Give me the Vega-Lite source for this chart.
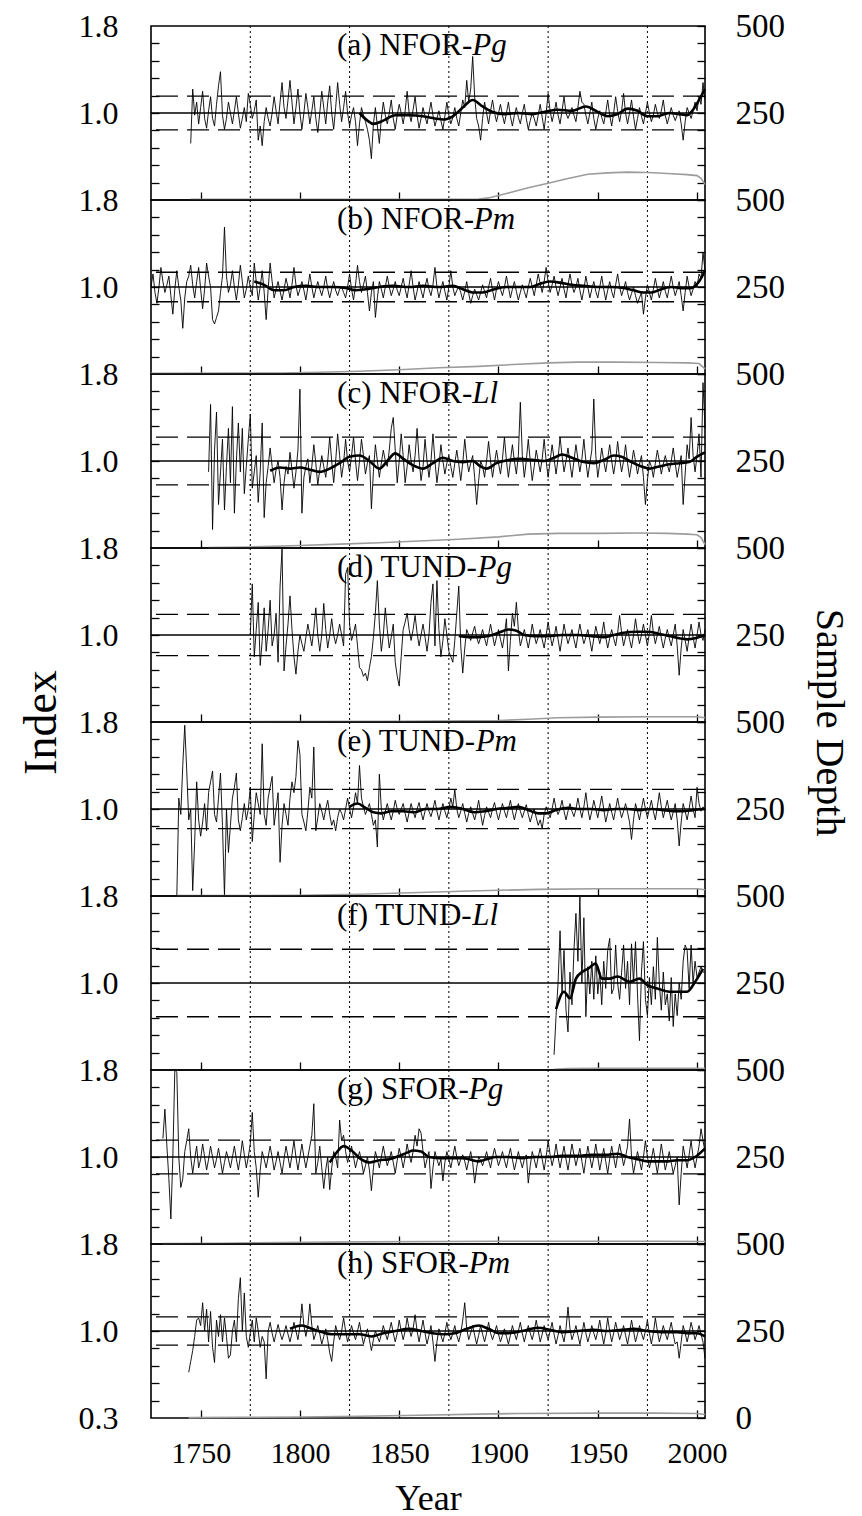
{
  "$schema": "https://vega.github.io/schema/vega-lite/v6.json",
  "background": "white",
  "padding": {"left": 17, "top": 9, "right": 5, "bottom": 5},
  "spacing": 0,
  "bounds": "flush",
  "config": {
    "view": {"stroke": "black", "strokeWidth": 1.6},
    "font": "Liberation Serif",
    "axis": {
      "domain": false, "grid": false, "tickColor": "black", "tickWidth": 1.3, "tickSize": -8,
      "labelFont": "Liberation Serif", "labelColor": "black", "labelOverlap": false, "labelBound": false, "labelFlush": false,
      "titleFont": "Liberation Serif", "titleColor": "black", "titleFontWeight": "normal", "titleFontSize": 36
    },
    "axisLeft": {"labelFontSize": 32, "labelPadding": 33},
    "axisRight": {"labelFontSize": 33, "labelPadding": 38},
    "axisBottom": {"labelFontSize": 30, "labelPadding": 28}
  },
  "datasets": {
    "decades": [{"year": 1775}, {"year": 1825}, {"year": 1875}, {"year": 1925}, {"year": 1975}],
    "levels": [
      {"panel": "a", "kind": "lo", "idx": 0.845}, {"panel": "a", "kind": "mean", "idx": 1.0}, {"panel": "a", "kind": "hi", "idx": 1.155},
      {"panel": "b", "kind": "lo", "idx": 0.865}, {"panel": "b", "kind": "mean", "idx": 1.0}, {"panel": "b", "kind": "hi", "idx": 1.135},
      {"panel": "c", "kind": "lo", "idx": 0.78}, {"panel": "c", "kind": "mean", "idx": 1.0}, {"panel": "c", "kind": "hi", "idx": 1.22},
      {"panel": "d", "kind": "lo", "idx": 0.81}, {"panel": "d", "kind": "mean", "idx": 1.0}, {"panel": "d", "kind": "hi", "idx": 1.19},
      {"panel": "e", "kind": "lo", "idx": 0.82}, {"panel": "e", "kind": "mean", "idx": 1.0}, {"panel": "e", "kind": "hi", "idx": 1.18},
      {"panel": "f", "kind": "lo", "idx": 0.69}, {"panel": "f", "kind": "mean", "idx": 1.0}, {"panel": "f", "kind": "hi", "idx": 1.31},
      {"panel": "g", "kind": "lo", "idx": 0.845}, {"panel": "g", "kind": "mean", "idx": 1.0}, {"panel": "g", "kind": "hi", "idx": 1.155},
      {"panel": "h", "kind": "lo", "idx": 0.87}, {"panel": "h", "kind": "mean", "idx": 1.0}, {"panel": "h", "kind": "hi", "idx": 1.13}
    ],
    "labels": [
      {"panel": "a", "prefix": "(a) NFOR-", "species": "Pg"},
      {"panel": "b", "prefix": "(b) NFOR-", "species": "Pm"},
      {"panel": "c", "prefix": "(c) NFOR-", "species": "Ll"},
      {"panel": "d", "prefix": "(d) TUND-", "species": "Pg"},
      {"panel": "e", "prefix": "(e) TUND-", "species": "Pm"},
      {"panel": "f", "prefix": "(f) TUND-", "species": "Ll"},
      {"panel": "g", "prefix": "(g) SFOR-", "species": "Pg"},
      {"panel": "h", "prefix": "(h) SFOR-", "species": "Pm"}
    ],
    "raw_a": [
      {"year":1745,"idx":0.72},{"year":1746,"idx":1.22},{"year":1747,"idx":0.98},{"year":1748,"idx":1.1},{"year":1749,"idx":0.9},{"year":1750,"idx":1.05},{"year":1751,"idx":1.2},{"year":1752,"idx":0.95},{"year":1753,"idx":0.86},{"year":1754,"idx":1.02},{"year":1755,"idx":1.15},{"year":1756,"idx":0.95},{"year":1757,"idx":0.88},{"year":1758,"idx":1.08},{"year":1759,"idx":1.25},{"year":1760,"idx":1.38},{"year":1761,"idx":0.98},{"year":1762,"idx":0.85},{"year":1763,"idx":0.95},{"year":1764,"idx":1.1},{"year":1765,"idx":1.0},{"year":1766,"idx":0.9},{"year":1767,"idx":1.02},{"year":1768,"idx":1.15},{"year":1769,"idx":1.0},{"year":1770,"idx":0.86},{"year":1771,"idx":0.95},{"year":1772,"idx":1.05},{"year":1773,"idx":0.92},{"year":1774,"idx":1.18},{"year":1775,"idx":1.08},{"year":1776,"idx":0.95},{"year":1777,"idx":1.02},{"year":1778,"idx":1.12},{"year":1779,"idx":0.75},{"year":1780,"idx":0.88},{"year":1781,"idx":0.7},{"year":1782,"idx":0.92},{"year":1783,"idx":1.05},{"year":1784,"idx":0.95},{"year":1785,"idx":0.88},{"year":1786,"idx":1.0},{"year":1787,"idx":1.15},{"year":1788,"idx":1.02},{"year":1789,"idx":0.9},{"year":1790,"idx":1.1},{"year":1791,"idx":1.28},{"year":1792,"idx":1.05},{"year":1793,"idx":0.95},{"year":1794,"idx":1.12},{"year":1795,"idx":1.3},{"year":1796,"idx":1.1},{"year":1797,"idx":0.9},{"year":1798,"idx":1.05},{"year":1799,"idx":1.22},{"year":1800,"idx":1.0},{"year":1801,"idx":0.85},{"year":1802,"idx":1.0},{"year":1803,"idx":1.18},{"year":1804,"idx":1.05},{"year":1805,"idx":0.9},{"year":1806,"idx":1.02},{"year":1807,"idx":1.15},{"year":1808,"idx":0.95},{"year":1809,"idx":0.82},{"year":1810,"idx":1.0},{"year":1811,"idx":1.2},{"year":1812,"idx":1.05},{"year":1813,"idx":0.9},{"year":1814,"idx":1.1},{"year":1815,"idx":1.25},{"year":1816,"idx":1.0},{"year":1817,"idx":0.85},{"year":1818,"idx":1.05},{"year":1819,"idx":1.28},{"year":1820,"idx":1.08},{"year":1821,"idx":0.92},{"year":1822,"idx":1.05},{"year":1823,"idx":1.2},{"year":1824,"idx":1.0},{"year":1825,"idx":0.88},{"year":1826,"idx":0.98},{"year":1827,"idx":1.05},{"year":1828,"idx":0.92},{"year":1829,"idx":0.7},{"year":1830,"idx":0.9},{"year":1831,"idx":1.05},{"year":1832,"idx":0.98},{"year":1833,"idx":0.92},{"year":1834,"idx":0.85},{"year":1835,"idx":0.75},{"year":1836,"idx":0.58},{"year":1837,"idx":0.9},{"year":1838,"idx":1.05},{"year":1839,"idx":0.88},{"year":1840,"idx":0.72},{"year":1841,"idx":0.95},{"year":1842,"idx":1.1},{"year":1843,"idx":0.98},{"year":1844,"idx":0.9},{"year":1845,"idx":1.0},{"year":1846,"idx":1.12},{"year":1847,"idx":0.95},{"year":1848,"idx":0.85},{"year":1849,"idx":0.98},{"year":1850,"idx":1.08},{"year":1851,"idx":1.0},{"year":1852,"idx":0.9},{"year":1853,"idx":1.02},{"year":1854,"idx":1.2},{"year":1855,"idx":1.0},{"year":1856,"idx":0.92},{"year":1857,"idx":1.03},{"year":1858,"idx":1.15},{"year":1859,"idx":0.98},{"year":1860,"idx":0.86},{"year":1861,"idx":0.95},{"year":1862,"idx":1.05},{"year":1863,"idx":0.97},{"year":1864,"idx":0.9},{"year":1865,"idx":1.0},{"year":1866,"idx":1.1},{"year":1867,"idx":0.98},{"year":1868,"idx":0.88},{"year":1869,"idx":0.95},{"year":1870,"idx":1.02},{"year":1871,"idx":0.93},{"year":1872,"idx":0.85},{"year":1873,"idx":0.97},{"year":1874,"idx":1.1},{"year":1875,"idx":0.98},{"year":1876,"idx":0.9},{"year":1877,"idx":0.96},{"year":1878,"idx":1.05},{"year":1879,"idx":0.95},{"year":1880,"idx":0.88},{"year":1881,"idx":1.0},{"year":1882,"idx":1.12},{"year":1883,"idx":1.05},{"year":1884,"idx":1.3},{"year":1885,"idx":1.1},{"year":1886,"idx":1.22},{"year":1887,"idx":1.52},{"year":1888,"idx":1.15},{"year":1889,"idx":0.95},{"year":1890,"idx":0.88},{"year":1891,"idx":0.75},{"year":1892,"idx":0.95},{"year":1893,"idx":1.1},{"year":1894,"idx":1.0},{"year":1895,"idx":0.9},{"year":1896,"idx":1.02},{"year":1897,"idx":1.12},{"year":1898,"idx":1.0},{"year":1899,"idx":0.92},{"year":1900,"idx":1.0},{"year":1901,"idx":1.08},{"year":1902,"idx":0.98},{"year":1903,"idx":0.9},{"year":1904,"idx":1.0},{"year":1905,"idx":1.1},{"year":1906,"idx":0.97},{"year":1907,"idx":0.88},{"year":1908,"idx":0.98},{"year":1909,"idx":1.05},{"year":1910,"idx":0.96},{"year":1911,"idx":0.9},{"year":1912,"idx":1.0},{"year":1913,"idx":1.08},{"year":1914,"idx":0.95},{"year":1915,"idx":0.85},{"year":1916,"idx":0.93},{"year":1917,"idx":1.0},{"year":1918,"idx":0.95},{"year":1919,"idx":0.88},{"year":1920,"idx":0.98},{"year":1921,"idx":1.08},{"year":1922,"idx":0.96},{"year":1923,"idx":0.85},{"year":1924,"idx":1.0},{"year":1925,"idx":1.18},{"year":1926,"idx":1.02},{"year":1927,"idx":0.92},{"year":1928,"idx":1.0},{"year":1929,"idx":1.1},{"year":1930,"idx":0.98},{"year":1931,"idx":0.9},{"year":1932,"idx":1.02},{"year":1933,"idx":1.15},{"year":1934,"idx":1.0},{"year":1935,"idx":0.95},{"year":1936,"idx":1.0},{"year":1937,"idx":1.05},{"year":1938,"idx":0.98},{"year":1939,"idx":0.92},{"year":1940,"idx":1.05},{"year":1941,"idx":1.2},{"year":1942,"idx":1.1},{"year":1943,"idx":1.08},{"year":1944,"idx":0.98},{"year":1945,"idx":0.9},{"year":1946,"idx":1.0},{"year":1947,"idx":1.1},{"year":1948,"idx":0.95},{"year":1949,"idx":0.85},{"year":1950,"idx":0.95},{"year":1951,"idx":1.02},{"year":1952,"idx":0.96},{"year":1953,"idx":0.9},{"year":1954,"idx":1.0},{"year":1955,"idx":1.12},{"year":1956,"idx":0.98},{"year":1957,"idx":0.88},{"year":1958,"idx":1.0},{"year":1959,"idx":1.15},{"year":1960,"idx":1.02},{"year":1961,"idx":0.92},{"year":1962,"idx":1.02},{"year":1963,"idx":1.18},{"year":1964,"idx":1.0},{"year":1965,"idx":0.9},{"year":1966,"idx":1.0},{"year":1967,"idx":1.12},{"year":1968,"idx":0.97},{"year":1969,"idx":0.85},{"year":1970,"idx":0.95},{"year":1971,"idx":1.05},{"year":1972,"idx":0.97},{"year":1973,"idx":0.9},{"year":1974,"idx":1.0},{"year":1975,"idx":1.1},{"year":1976,"idx":1.0},{"year":1977,"idx":0.92},{"year":1978,"idx":0.98},{"year":1979,"idx":1.08},{"year":1980,"idx":1.0},{"year":1981,"idx":0.95},{"year":1982,"idx":1.02},{"year":1983,"idx":1.12},{"year":1984,"idx":0.98},{"year":1985,"idx":0.9},{"year":1986,"idx":0.97},{"year":1987,"idx":1.05},{"year":1988,"idx":0.98},{"year":1989,"idx":0.93},{"year":1990,"idx":0.98},{"year":1991,"idx":1.02},{"year":1992,"idx":0.9},{"year":1993,"idx":0.75},{"year":1994,"idx":0.92},{"year":1995,"idx":1.05},{"year":1996,"idx":1.0},{"year":1997,"idx":0.95},{"year":1998,"idx":1.02},{"year":1999,"idx":1.1},{"year":2000,"idx":1.02},{"year":2001,"idx":1.15},{"year":2002,"idx":1.08},{"year":2003,"idx":1.28},{"year":2004,"idx":1.12}
    ],
    "smooth_a": [
      {"year":1830,"idx":1.0},{"year":1834,"idx":0.93},{"year":1837,"idx":0.9},{"year":1842,"idx":0.93},{"year":1848,"idx":0.98},{"year":1855,"idx":0.98},{"year":1862,"idx":0.97},{"year":1868,"idx":0.95},{"year":1872,"idx":0.94},{"year":1877,"idx":0.97},{"year":1882,"idx":1.05},{"year":1887,"idx":1.12},{"year":1892,"idx":1.06},{"year":1897,"idx":1.01},{"year":1903,"idx":0.99},{"year":1910,"idx":1.0},{"year":1917,"idx":0.99},{"year":1923,"idx":1.01},{"year":1930,"idx":1.03},{"year":1937,"idx":1.02},{"year":1944,"idx":1.06},{"year":1950,"idx":1.01},{"year":1955,"idx":0.97},{"year":1960,"idx":0.99},{"year":1965,"idx":1.04},{"year":1970,"idx":1.02},{"year":1975,"idx":0.97},{"year":1980,"idx":0.97},{"year":1986,"idx":1.0},{"year":1991,"idx":0.99},{"year":1995,"idx":0.98},{"year":1998,"idx":1.03},{"year":2001,"idx":1.12},{"year":2004,"idx":1.22}
    ],
    "depth_a": [
      {"year":1745,"n":2},{"year":1800,"n":2},{"year":1850,"n":2},{"year":1890,"n":3},{"year":1895,"n":6},{"year":1905,"n":20},{"year":1915,"n":35},{"year":1925,"n":48},{"year":1935,"n":62},{"year":1945,"n":74},{"year":1955,"n":78},{"year":1965,"n":80},{"year":1975,"n":79},{"year":1985,"n":76},{"year":1995,"n":73},{"year":2000,"n":70},{"year":2002,"n":62},{"year":2004,"n":45}
    ],
    "raw_b": [
      {"year":1725,"idx":1.0},{"year":1726,"idx":1.12},{"year":1727,"idx":0.95},{"year":1728,"idx":0.85},{"year":1729,"idx":1.0},{"year":1730,"idx":1.18},{"year":1731,"idx":1.05},{"year":1732,"idx":0.95},{"year":1733,"idx":1.02},{"year":1734,"idx":1.1},{"year":1735,"idx":0.92},{"year":1736,"idx":0.75},{"year":1737,"idx":0.98},{"year":1738,"idx":1.15},{"year":1739,"idx":1.0},{"year":1740,"idx":0.88},{"year":1741,"idx":0.62},{"year":1742,"idx":0.9},{"year":1743,"idx":1.05},{"year":1744,"idx":1.1},{"year":1745,"idx":1.2},{"year":1746,"idx":1.02},{"year":1747,"idx":0.9},{"year":1748,"idx":1.05},{"year":1749,"idx":1.18},{"year":1750,"idx":0.98},{"year":1751,"idx":0.8},{"year":1752,"idx":0.98},{"year":1753,"idx":1.22},{"year":1754,"idx":1.1},{"year":1755,"idx":1.0},{"year":1756,"idx":0.7},{"year":1757,"idx":0.66},{"year":1758,"idx":0.72},{"year":1759,"idx":0.78},{"year":1760,"idx":0.95},{"year":1761,"idx":1.1},{"year":1762,"idx":1.55},{"year":1763,"idx":1.1},{"year":1764,"idx":0.95},{"year":1765,"idx":1.02},{"year":1766,"idx":1.15},{"year":1767,"idx":1.0},{"year":1768,"idx":0.88},{"year":1769,"idx":1.02},{"year":1770,"idx":1.2},{"year":1771,"idx":1.05},{"year":1772,"idx":0.9},{"year":1773,"idx":0.98},{"year":1774,"idx":1.1},{"year":1775,"idx":1.0},{"year":1776,"idx":0.92},{"year":1777,"idx":1.22},{"year":1778,"idx":1.05},{"year":1779,"idx":0.88},{"year":1780,"idx":1.0},{"year":1781,"idx":1.15},{"year":1782,"idx":0.95},{"year":1783,"idx":0.7},{"year":1784,"idx":0.98},{"year":1785,"idx":1.22},{"year":1786,"idx":1.05},{"year":1787,"idx":0.9},{"year":1788,"idx":0.98},{"year":1789,"idx":1.05},{"year":1790,"idx":0.96},{"year":1791,"idx":0.88},{"year":1792,"idx":0.98},{"year":1793,"idx":1.08},{"year":1794,"idx":1.0},{"year":1795,"idx":0.9},{"year":1796,"idx":1.02},{"year":1797,"idx":1.18},{"year":1798,"idx":1.02},{"year":1799,"idx":0.92},{"year":1800,"idx":0.98},{"year":1801,"idx":1.05},{"year":1802,"idx":0.97},{"year":1803,"idx":0.88},{"year":1804,"idx":1.0},{"year":1805,"idx":1.12},{"year":1806,"idx":1.0},{"year":1807,"idx":0.9},{"year":1808,"idx":0.98},{"year":1809,"idx":1.05},{"year":1810,"idx":0.98},{"year":1811,"idx":0.92},{"year":1812,"idx":1.0},{"year":1813,"idx":1.1},{"year":1814,"idx":0.98},{"year":1815,"idx":0.9},{"year":1816,"idx":0.98},{"year":1817,"idx":1.05},{"year":1818,"idx":0.97},{"year":1819,"idx":0.92},{"year":1820,"idx":0.98},{"year":1821,"idx":1.0},{"year":1822,"idx":0.95},{"year":1823,"idx":0.9},{"year":1824,"idx":1.0},{"year":1825,"idx":1.12},{"year":1826,"idx":0.98},{"year":1827,"idx":0.88},{"year":1828,"idx":1.02},{"year":1829,"idx":1.2},{"year":1830,"idx":1.05},{"year":1831,"idx":0.95},{"year":1832,"idx":1.02},{"year":1833,"idx":1.1},{"year":1834,"idx":0.95},{"year":1835,"idx":0.78},{"year":1836,"idx":0.95},{"year":1837,"idx":1.05},{"year":1838,"idx":0.72},{"year":1839,"idx":0.9},{"year":1840,"idx":1.05},{"year":1841,"idx":0.98},{"year":1842,"idx":0.9},{"year":1843,"idx":1.0},{"year":1844,"idx":1.1},{"year":1845,"idx":1.0},{"year":1846,"idx":0.92},{"year":1847,"idx":0.98},{"year":1848,"idx":1.05},{"year":1849,"idx":0.97},{"year":1850,"idx":0.92},{"year":1851,"idx":1.0},{"year":1852,"idx":1.08},{"year":1853,"idx":0.98},{"year":1854,"idx":0.9},{"year":1855,"idx":1.02},{"year":1856,"idx":1.15},{"year":1857,"idx":1.0},{"year":1858,"idx":0.88},{"year":1859,"idx":0.96},{"year":1860,"idx":1.05},{"year":1861,"idx":0.97},{"year":1862,"idx":0.9},{"year":1863,"idx":1.0},{"year":1864,"idx":1.08},{"year":1865,"idx":0.98},{"year":1866,"idx":0.92},{"year":1867,"idx":1.02},{"year":1868,"idx":1.18},{"year":1869,"idx":1.0},{"year":1870,"idx":0.9},{"year":1871,"idx":0.98},{"year":1872,"idx":1.05},{"year":1873,"idx":0.96},{"year":1874,"idx":0.88},{"year":1875,"idx":1.0},{"year":1876,"idx":1.15},{"year":1877,"idx":1.0},{"year":1878,"idx":0.92},{"year":1879,"idx":0.97},{"year":1880,"idx":1.0},{"year":1881,"idx":0.95},{"year":1882,"idx":0.88},{"year":1883,"idx":0.96},{"year":1884,"idx":1.05},{"year":1885,"idx":0.94},{"year":1886,"idx":0.85},{"year":1887,"idx":0.92},{"year":1888,"idx":0.98},{"year":1889,"idx":0.93},{"year":1890,"idx":0.88},{"year":1891,"idx":0.95},{"year":1892,"idx":1.02},{"year":1893,"idx":0.96},{"year":1894,"idx":0.9},{"year":1895,"idx":1.0},{"year":1896,"idx":1.08},{"year":1897,"idx":0.97},{"year":1898,"idx":0.88},{"year":1899,"idx":0.98},{"year":1900,"idx":1.05},{"year":1901,"idx":0.98},{"year":1902,"idx":0.92},{"year":1903,"idx":1.0},{"year":1904,"idx":1.1},{"year":1905,"idx":1.0},{"year":1906,"idx":0.9},{"year":1907,"idx":0.98},{"year":1908,"idx":1.05},{"year":1909,"idx":0.96},{"year":1910,"idx":0.88},{"year":1911,"idx":0.95},{"year":1912,"idx":1.02},{"year":1913,"idx":0.96},{"year":1914,"idx":0.9},{"year":1915,"idx":1.0},{"year":1916,"idx":1.08},{"year":1917,"idx":1.0},{"year":1918,"idx":0.92},{"year":1919,"idx":1.02},{"year":1920,"idx":1.12},{"year":1921,"idx":1.03},{"year":1922,"idx":0.95},{"year":1923,"idx":1.05},{"year":1924,"idx":1.18},{"year":1925,"idx":1.05},{"year":1926,"idx":0.95},{"year":1927,"idx":1.02},{"year":1928,"idx":1.1},{"year":1929,"idx":1.0},{"year":1930,"idx":0.92},{"year":1931,"idx":1.0},{"year":1932,"idx":1.08},{"year":1933,"idx":0.98},{"year":1934,"idx":0.9},{"year":1935,"idx":1.02},{"year":1936,"idx":1.12},{"year":1937,"idx":1.02},{"year":1938,"idx":0.95},{"year":1939,"idx":1.0},{"year":1940,"idx":1.08},{"year":1941,"idx":0.97},{"year":1942,"idx":0.88},{"year":1943,"idx":0.98},{"year":1944,"idx":1.1},{"year":1945,"idx":1.0},{"year":1946,"idx":0.9},{"year":1947,"idx":0.98},{"year":1948,"idx":1.05},{"year":1949,"idx":0.96},{"year":1950,"idx":0.9},{"year":1951,"idx":1.0},{"year":1952,"idx":1.1},{"year":1953,"idx":0.98},{"year":1954,"idx":0.88},{"year":1955,"idx":0.97},{"year":1956,"idx":1.05},{"year":1957,"idx":0.96},{"year":1958,"idx":0.9},{"year":1959,"idx":1.02},{"year":1960,"idx":1.12},{"year":1961,"idx":1.0},{"year":1962,"idx":0.92},{"year":1963,"idx":0.98},{"year":1964,"idx":1.05},{"year":1965,"idx":0.95},{"year":1966,"idx":0.88},{"year":1967,"idx":0.94},{"year":1968,"idx":1.0},{"year":1969,"idx":0.92},{"year":1970,"idx":0.85},{"year":1971,"idx":0.9},{"year":1972,"idx":0.95},{"year":1973,"idx":0.75},{"year":1974,"idx":0.9},{"year":1975,"idx":1.02},{"year":1976,"idx":0.95},{"year":1977,"idx":0.88},{"year":1978,"idx":0.98},{"year":1979,"idx":1.08},{"year":1980,"idx":0.98},{"year":1981,"idx":0.9},{"year":1982,"idx":0.97},{"year":1983,"idx":1.05},{"year":1984,"idx":0.96},{"year":1985,"idx":0.9},{"year":1986,"idx":1.0},{"year":1987,"idx":1.1},{"year":1988,"idx":1.0},{"year":1989,"idx":0.92},{"year":1990,"idx":0.98},{"year":1991,"idx":1.05},{"year":1992,"idx":0.92},{"year":1993,"idx":0.78},{"year":1994,"idx":0.95},{"year":1995,"idx":1.1},{"year":1996,"idx":1.0},{"year":1997,"idx":0.92},{"year":1998,"idx":0.98},{"year":1999,"idx":1.05},{"year":2000,"idx":1.0},{"year":2001,"idx":1.12},{"year":2002,"idx":1.08},{"year":2003,"idx":1.32},{"year":2004,"idx":1.15}
    ],
    "smooth_b": [
      {"year":1777,"idx":1.05},{"year":1782,"idx":1.02},{"year":1787,"idx":0.97},{"year":1792,"idx":0.97},{"year":1797,"idx":1.0},{"year":1803,"idx":1.01},{"year":1810,"idx":1.0},{"year":1817,"idx":1.0},{"year":1823,"idx":0.99},{"year":1828,"idx":0.97},{"year":1833,"idx":0.98},{"year":1840,"idx":1.0},{"year":1847,"idx":1.01},{"year":1855,"idx":1.0},{"year":1862,"idx":1.01},{"year":1870,"idx":1.0},{"year":1877,"idx":1.01},{"year":1882,"idx":0.98},{"year":1887,"idx":0.95},{"year":1892,"idx":0.95},{"year":1898,"idx":0.98},{"year":1904,"idx":1.0},{"year":1910,"idx":1.0},{"year":1916,"idx":1.0},{"year":1921,"idx":1.03},{"year":1926,"idx":1.05},{"year":1931,"idx":1.04},{"year":1937,"idx":1.02},{"year":1943,"idx":1.01},{"year":1950,"idx":1.0},{"year":1957,"idx":1.0},{"year":1963,"idx":0.99},{"year":1968,"idx":0.97},{"year":1973,"idx":0.95},{"year":1977,"idx":0.95},{"year":1982,"idx":0.98},{"year":1987,"idx":1.0},{"year":1992,"idx":0.99},{"year":1997,"idx":0.99},{"year":2001,"idx":1.05},{"year":2004,"idx":1.15}
    ],
    "depth_b": [
      {"year":1725,"n":2},{"year":1790,"n":3},{"year":1810,"n":5},{"year":1830,"n":8},{"year":1850,"n":12},{"year":1870,"n":18},{"year":1890,"n":22},{"year":1910,"n":28},{"year":1925,"n":32},{"year":1940,"n":34},{"year":1960,"n":34},{"year":1980,"n":33},{"year":1995,"n":32},{"year":2001,"n":30},{"year":2004,"n":15}
    ],
    "raw_c": [
      {"year":1754,"idx":0.9},{"year":1755,"idx":1.52},{"year":1756,"idx":0.37},{"year":1757,"idx":1.1},{"year":1758,"idx":1.45},{"year":1759,"idx":0.6},{"year":1760,"idx":0.9},{"year":1761,"idx":1.2},{"year":1762,"idx":0.55},{"year":1763,"idx":0.95},{"year":1764,"idx":1.3},{"year":1765,"idx":0.8},{"year":1766,"idx":1.5},{"year":1767,"idx":0.52},{"year":1768,"idx":1.0},{"year":1769,"idx":1.35},{"year":1770,"idx":0.9},{"year":1771,"idx":1.3},{"year":1772,"idx":0.7},{"year":1773,"idx":0.95},{"year":1774,"idx":1.2},{"year":1775,"idx":1.43},{"year":1776,"idx":0.75},{"year":1777,"idx":0.9},{"year":1778,"idx":1.05},{"year":1779,"idx":0.62},{"year":1780,"idx":0.9},{"year":1781,"idx":1.35},{"year":1782,"idx":0.48},{"year":1783,"idx":0.8},{"year":1784,"idx":0.95},{"year":1785,"idx":1.12},{"year":1786,"idx":0.95},{"year":1787,"idx":0.8},{"year":1788,"idx":0.92},{"year":1789,"idx":1.0},{"year":1790,"idx":0.85},{"year":1791,"idx":0.55},{"year":1792,"idx":0.8},{"year":1793,"idx":0.95},{"year":1794,"idx":0.88},{"year":1795,"idx":1.08},{"year":1796,"idx":0.92},{"year":1797,"idx":0.75},{"year":1798,"idx":0.9},{"year":1799,"idx":1.1},{"year":1800,"idx":1.66},{"year":1801,"idx":0.52},{"year":1802,"idx":0.85},{"year":1803,"idx":0.95},{"year":1804,"idx":1.02},{"year":1805,"idx":0.8},{"year":1806,"idx":0.95},{"year":1807,"idx":1.15},{"year":1808,"idx":0.98},{"year":1809,"idx":0.78},{"year":1810,"idx":0.92},{"year":1811,"idx":1.05},{"year":1812,"idx":0.95},{"year":1813,"idx":0.85},{"year":1814,"idx":1.0},{"year":1815,"idx":1.22},{"year":1816,"idx":1.0},{"year":1817,"idx":0.8},{"year":1818,"idx":1.0},{"year":1819,"idx":1.25},{"year":1820,"idx":1.05},{"year":1821,"idx":0.85},{"year":1822,"idx":0.98},{"year":1823,"idx":1.2},{"year":1824,"idx":1.0},{"year":1825,"idx":0.9},{"year":1826,"idx":1.05},{"year":1827,"idx":1.22},{"year":1828,"idx":1.0},{"year":1829,"idx":0.82},{"year":1830,"idx":1.0},{"year":1831,"idx":1.2},{"year":1832,"idx":1.05},{"year":1833,"idx":0.88},{"year":1834,"idx":0.98},{"year":1835,"idx":1.05},{"year":1836,"idx":0.56},{"year":1837,"idx":0.9},{"year":1838,"idx":1.15},{"year":1839,"idx":1.0},{"year":1840,"idx":0.85},{"year":1841,"idx":0.98},{"year":1842,"idx":1.1},{"year":1843,"idx":1.0},{"year":1844,"idx":0.95},{"year":1845,"idx":1.1},{"year":1846,"idx":1.3},{"year":1847,"idx":1.4},{"year":1848,"idx":1.1},{"year":1849,"idx":0.8},{"year":1850,"idx":1.0},{"year":1851,"idx":1.25},{"year":1852,"idx":1.05},{"year":1853,"idx":0.8},{"year":1854,"idx":0.95},{"year":1855,"idx":1.15},{"year":1856,"idx":1.0},{"year":1857,"idx":0.9},{"year":1858,"idx":1.05},{"year":1859,"idx":1.3},{"year":1860,"idx":1.02},{"year":1861,"idx":0.82},{"year":1862,"idx":0.95},{"year":1863,"idx":1.2},{"year":1864,"idx":1.0},{"year":1865,"idx":0.85},{"year":1866,"idx":1.0},{"year":1867,"idx":1.25},{"year":1868,"idx":1.0},{"year":1869,"idx":0.8},{"year":1870,"idx":0.95},{"year":1871,"idx":1.15},{"year":1872,"idx":1.0},{"year":1873,"idx":0.88},{"year":1874,"idx":0.98},{"year":1875,"idx":1.05},{"year":1876,"idx":0.95},{"year":1877,"idx":0.85},{"year":1878,"idx":0.98},{"year":1879,"idx":1.1},{"year":1880,"idx":0.97},{"year":1881,"idx":0.82},{"year":1882,"idx":0.98},{"year":1883,"idx":1.2},{"year":1884,"idx":1.02},{"year":1885,"idx":0.9},{"year":1886,"idx":0.98},{"year":1887,"idx":1.05},{"year":1888,"idx":0.85},{"year":1889,"idx":0.6},{"year":1890,"idx":0.82},{"year":1891,"idx":1.0},{"year":1892,"idx":0.95},{"year":1893,"idx":0.85},{"year":1894,"idx":1.0},{"year":1895,"idx":1.18},{"year":1896,"idx":1.0},{"year":1897,"idx":0.85},{"year":1898,"idx":0.98},{"year":1899,"idx":1.1},{"year":1900,"idx":0.98},{"year":1901,"idx":0.88},{"year":1902,"idx":1.02},{"year":1903,"idx":1.22},{"year":1904,"idx":1.0},{"year":1905,"idx":0.85},{"year":1906,"idx":1.0},{"year":1907,"idx":1.15},{"year":1908,"idx":1.0},{"year":1909,"idx":0.88},{"year":1910,"idx":1.05},{"year":1911,"idx":1.54},{"year":1912,"idx":1.05},{"year":1913,"idx":0.85},{"year":1914,"idx":1.0},{"year":1915,"idx":1.2},{"year":1916,"idx":1.0},{"year":1917,"idx":0.82},{"year":1918,"idx":0.95},{"year":1919,"idx":1.1},{"year":1920,"idx":1.0},{"year":1921,"idx":0.9},{"year":1922,"idx":1.02},{"year":1923,"idx":1.2},{"year":1924,"idx":1.0},{"year":1925,"idx":0.85},{"year":1926,"idx":1.0},{"year":1927,"idx":1.15},{"year":1928,"idx":1.02},{"year":1929,"idx":0.88},{"year":1930,"idx":1.02},{"year":1931,"idx":1.22},{"year":1932,"idx":1.05},{"year":1933,"idx":0.9},{"year":1934,"idx":1.0},{"year":1935,"idx":1.12},{"year":1936,"idx":0.98},{"year":1937,"idx":0.85},{"year":1938,"idx":1.0},{"year":1939,"idx":1.15},{"year":1940,"idx":1.02},{"year":1941,"idx":0.9},{"year":1942,"idx":1.02},{"year":1943,"idx":1.2},{"year":1944,"idx":1.0},{"year":1945,"idx":0.85},{"year":1946,"idx":0.98},{"year":1947,"idx":1.1},{"year":1948,"idx":1.57},{"year":1949,"idx":1.05},{"year":1950,"idx":0.85},{"year":1951,"idx":0.98},{"year":1952,"idx":1.12},{"year":1953,"idx":1.0},{"year":1954,"idx":0.9},{"year":1955,"idx":1.02},{"year":1956,"idx":1.15},{"year":1957,"idx":1.0},{"year":1958,"idx":0.88},{"year":1959,"idx":1.0},{"year":1960,"idx":1.18},{"year":1961,"idx":1.02},{"year":1962,"idx":0.9},{"year":1963,"idx":1.0},{"year":1964,"idx":1.15},{"year":1965,"idx":0.98},{"year":1966,"idx":0.85},{"year":1967,"idx":0.97},{"year":1968,"idx":1.1},{"year":1969,"idx":1.0},{"year":1970,"idx":0.88},{"year":1971,"idx":0.97},{"year":1972,"idx":1.05},{"year":1973,"idx":0.85},{"year":1974,"idx":0.6},{"year":1975,"idx":0.82},{"year":1976,"idx":1.0},{"year":1977,"idx":0.95},{"year":1978,"idx":0.85},{"year":1979,"idx":0.98},{"year":1980,"idx":1.1},{"year":1981,"idx":1.0},{"year":1982,"idx":0.88},{"year":1983,"idx":0.97},{"year":1984,"idx":1.05},{"year":1985,"idx":0.97},{"year":1986,"idx":0.9},{"year":1987,"idx":1.0},{"year":1988,"idx":1.12},{"year":1989,"idx":0.98},{"year":1990,"idx":0.85},{"year":1991,"idx":0.95},{"year":1992,"idx":1.05},{"year":1993,"idx":0.6},{"year":1994,"idx":0.88},{"year":1995,"idx":1.15},{"year":1996,"idx":1.02},{"year":1997,"idx":1.4},{"year":1998,"idx":1.05},{"year":1999,"idx":0.9},{"year":2000,"idx":1.05},{"year":2001,"idx":1.25},{"year":2002,"idx":0.85},{"year":2003,"idx":1.72},{"year":2004,"idx":1.3}
    ],
    "smooth_c": [
      {"year":1785,"idx":0.91},{"year":1790,"idx":0.94},{"year":1795,"idx":0.93},{"year":1800,"idx":0.94},{"year":1805,"idx":0.92},{"year":1810,"idx":0.9},{"year":1815,"idx":0.93},{"year":1820,"idx":0.98},{"year":1825,"idx":1.04},{"year":1830,"idx":1.05},{"year":1835,"idx":1.0},{"year":1840,"idx":0.93},{"year":1844,"idx":1.0},{"year":1848,"idx":1.07},{"year":1852,"idx":1.02},{"year":1857,"idx":0.96},{"year":1862,"idx":0.93},{"year":1867,"idx":0.98},{"year":1872,"idx":1.03},{"year":1877,"idx":1.0},{"year":1882,"idx":0.99},{"year":1887,"idx":1.0},{"year":1891,"idx":0.95},{"year":1894,"idx":0.93},{"year":1899,"idx":0.98},{"year":1905,"idx":1.01},{"year":1911,"idx":1.02},{"year":1917,"idx":1.01},{"year":1923,"idx":1.0},{"year":1928,"idx":1.03},{"year":1932,"idx":1.06},{"year":1937,"idx":1.03},{"year":1943,"idx":0.99},{"year":1948,"idx":0.98},{"year":1953,"idx":1.01},{"year":1958,"idx":1.05},{"year":1962,"idx":1.04},{"year":1967,"idx":0.99},{"year":1972,"idx":0.95},{"year":1976,"idx":0.93},{"year":1981,"idx":0.95},{"year":1986,"idx":0.97},{"year":1991,"idx":0.98},{"year":1996,"idx":0.99},{"year":2000,"idx":1.04},{"year":2004,"idx":1.08}
    ],
    "depth_c": [
      {"year":1754,"n":1},{"year":1775,"n":3},{"year":1800,"n":7},{"year":1820,"n":11},{"year":1840,"n":15},{"year":1860,"n":20},{"year":1880,"n":25},{"year":1900,"n":32},{"year":1915,"n":40},{"year":1930,"n":42},{"year":1950,"n":42},{"year":1970,"n":43},{"year":1985,"n":42},{"year":1995,"n":40},{"year":2000,"n":38},{"year":2002,"n":30},{"year":2004,"n":10}
    ],
    "raw_d": [
      {"year":1775,"idx":1.0},{"year":1776,"idx":1.47},{"year":1777,"idx":0.8},{"year":1778,"idx":1.05},{"year":1779,"idx":1.3},{"year":1780,"idx":0.72},{"year":1781,"idx":0.95},{"year":1782,"idx":1.25},{"year":1783,"idx":0.85},{"year":1784,"idx":1.05},{"year":1785,"idx":1.32},{"year":1786,"idx":0.9},{"year":1787,"idx":1.0},{"year":1788,"idx":1.2},{"year":1789,"idx":0.75},{"year":1790,"idx":1.45},{"year":1791,"idx":1.79},{"year":1792,"idx":0.67},{"year":1793,"idx":0.9},{"year":1794,"idx":1.1},{"year":1795,"idx":1.36},{"year":1796,"idx":1.05},{"year":1797,"idx":0.8},{"year":1798,"idx":0.64},{"year":1799,"idx":0.85},{"year":1800,"idx":1.0},{"year":1801,"idx":0.92},{"year":1802,"idx":0.85},{"year":1803,"idx":0.98},{"year":1804,"idx":1.1},{"year":1805,"idx":1.0},{"year":1806,"idx":0.9},{"year":1807,"idx":1.05},{"year":1808,"idx":1.25},{"year":1809,"idx":1.0},{"year":1810,"idx":0.85},{"year":1811,"idx":1.0},{"year":1812,"idx":1.29},{"year":1813,"idx":1.05},{"year":1814,"idx":0.88},{"year":1815,"idx":1.0},{"year":1816,"idx":1.15},{"year":1817,"idx":1.0},{"year":1818,"idx":0.92},{"year":1819,"idx":1.0},{"year":1820,"idx":1.1},{"year":1821,"idx":1.0},{"year":1822,"idx":0.9},{"year":1823,"idx":1.56},{"year":1824,"idx":1.62},{"year":1825,"idx":1.1},{"year":1826,"idx":0.95},{"year":1827,"idx":1.02},{"year":1828,"idx":1.1},{"year":1829,"idx":0.9},{"year":1830,"idx":0.7},{"year":1831,"idx":0.68},{"year":1832,"idx":0.62},{"year":1833,"idx":0.65},{"year":1834,"idx":0.58},{"year":1835,"idx":0.7},{"year":1836,"idx":0.8},{"year":1837,"idx":0.98},{"year":1838,"idx":1.2},{"year":1839,"idx":1.5},{"year":1840,"idx":1.1},{"year":1841,"idx":0.85},{"year":1842,"idx":1.0},{"year":1843,"idx":1.25},{"year":1844,"idx":1.05},{"year":1845,"idx":0.88},{"year":1846,"idx":0.98},{"year":1847,"idx":1.1},{"year":1848,"idx":0.75},{"year":1849,"idx":0.62},{"year":1850,"idx":0.53},{"year":1851,"idx":0.8},{"year":1852,"idx":1.05},{"year":1853,"idx":1.12},{"year":1854,"idx":1.2},{"year":1855,"idx":1.05},{"year":1856,"idx":0.95},{"year":1857,"idx":1.05},{"year":1858,"idx":1.18},{"year":1859,"idx":1.02},{"year":1860,"idx":0.9},{"year":1861,"idx":1.0},{"year":1862,"idx":1.1},{"year":1863,"idx":0.98},{"year":1864,"idx":0.85},{"year":1865,"idx":1.0},{"year":1866,"idx":1.3},{"year":1867,"idx":1.47},{"year":1868,"idx":0.9},{"year":1869,"idx":1.5},{"year":1870,"idx":1.05},{"year":1871,"idx":0.8},{"year":1872,"idx":0.95},{"year":1873,"idx":1.15},{"year":1874,"idx":1.0},{"year":1875,"idx":0.85},{"year":1876,"idx":0.8},{"year":1877,"idx":0.75},{"year":1878,"idx":0.95},{"year":1879,"idx":1.2},{"year":1880,"idx":1.45},{"year":1881,"idx":0.9},{"year":1882,"idx":0.65},{"year":1883,"idx":0.88},{"year":1884,"idx":1.05},{"year":1885,"idx":1.0},{"year":1886,"idx":0.95},{"year":1887,"idx":1.02},{"year":1888,"idx":1.08},{"year":1889,"idx":0.98},{"year":1890,"idx":0.92},{"year":1891,"idx":0.98},{"year":1892,"idx":1.05},{"year":1893,"idx":0.97},{"year":1894,"idx":0.9},{"year":1895,"idx":1.0},{"year":1896,"idx":1.1},{"year":1897,"idx":1.0},{"year":1898,"idx":0.9},{"year":1899,"idx":0.98},{"year":1900,"idx":1.05},{"year":1901,"idx":0.96},{"year":1902,"idx":0.88},{"year":1903,"idx":1.0},{"year":1904,"idx":1.15},{"year":1905,"idx":0.67},{"year":1906,"idx":0.95},{"year":1907,"idx":1.2},{"year":1908,"idx":1.08},{"year":1909,"idx":1.3},{"year":1910,"idx":1.05},{"year":1911,"idx":0.9},{"year":1912,"idx":0.97},{"year":1913,"idx":1.05},{"year":1914,"idx":0.97},{"year":1915,"idx":0.88},{"year":1916,"idx":0.98},{"year":1917,"idx":1.1},{"year":1918,"idx":1.0},{"year":1919,"idx":0.92},{"year":1920,"idx":0.98},{"year":1921,"idx":1.05},{"year":1922,"idx":0.96},{"year":1923,"idx":0.88},{"year":1924,"idx":1.0},{"year":1925,"idx":1.12},{"year":1926,"idx":1.0},{"year":1927,"idx":0.9},{"year":1928,"idx":0.98},{"year":1929,"idx":1.08},{"year":1930,"idx":0.96},{"year":1931,"idx":0.85},{"year":1932,"idx":0.97},{"year":1933,"idx":1.1},{"year":1934,"idx":1.0},{"year":1935,"idx":0.92},{"year":1936,"idx":0.98},{"year":1937,"idx":1.05},{"year":1938,"idx":0.96},{"year":1939,"idx":0.88},{"year":1940,"idx":1.0},{"year":1941,"idx":1.1},{"year":1942,"idx":1.0},{"year":1943,"idx":0.92},{"year":1944,"idx":0.98},{"year":1945,"idx":1.05},{"year":1946,"idx":0.95},{"year":1947,"idx":0.85},{"year":1948,"idx":0.97},{"year":1949,"idx":1.08},{"year":1950,"idx":1.0},{"year":1951,"idx":0.92},{"year":1952,"idx":1.0},{"year":1953,"idx":1.12},{"year":1954,"idx":0.98},{"year":1955,"idx":0.88},{"year":1956,"idx":0.97},{"year":1957,"idx":1.05},{"year":1958,"idx":0.97},{"year":1959,"idx":0.9},{"year":1960,"idx":1.02},{"year":1961,"idx":1.18},{"year":1962,"idx":1.02},{"year":1963,"idx":0.9},{"year":1964,"idx":0.98},{"year":1965,"idx":1.05},{"year":1966,"idx":0.96},{"year":1967,"idx":0.88},{"year":1968,"idx":1.0},{"year":1969,"idx":1.15},{"year":1970,"idx":1.02},{"year":1971,"idx":0.92},{"year":1972,"idx":1.0},{"year":1973,"idx":1.1},{"year":1974,"idx":1.0},{"year":1975,"idx":0.9},{"year":1976,"idx":1.02},{"year":1977,"idx":1.18},{"year":1978,"idx":1.02},{"year":1979,"idx":0.92},{"year":1980,"idx":1.0},{"year":1981,"idx":1.08},{"year":1982,"idx":0.97},{"year":1983,"idx":0.88},{"year":1984,"idx":0.97},{"year":1985,"idx":1.05},{"year":1986,"idx":0.97},{"year":1987,"idx":0.9},{"year":1988,"idx":1.0},{"year":1989,"idx":1.1},{"year":1990,"idx":0.9},{"year":1991,"idx":0.63},{"year":1992,"idx":0.88},{"year":1993,"idx":1.05},{"year":1994,"idx":0.95},{"year":1995,"idx":0.85},{"year":1996,"idx":0.98},{"year":1997,"idx":1.1},{"year":1998,"idx":0.98},{"year":1999,"idx":0.88},{"year":2000,"idx":1.0},{"year":2001,"idx":1.12},{"year":2002,"idx":1.0},{"year":2003,"idx":0.95},{"year":2004,"idx":1.05}
    ],
    "smooth_d": [
      {"year":1880,"idx":0.99},{"year":1885,"idx":0.98},{"year":1890,"idx":0.98},{"year":1895,"idx":0.99},{"year":1900,"idx":1.02},{"year":1905,"idx":1.05},{"year":1909,"idx":1.04},{"year":1913,"idx":1.0},{"year":1918,"idx":0.99},{"year":1925,"idx":0.99},{"year":1932,"idx":1.0},{"year":1940,"idx":1.0},{"year":1947,"idx":0.99},{"year":1953,"idx":0.98},{"year":1958,"idx":1.0},{"year":1963,"idx":1.02},{"year":1970,"idx":1.03},{"year":1975,"idx":1.03},{"year":1981,"idx":1.01},{"year":1986,"idx":0.99},{"year":1991,"idx":0.97},{"year":1995,"idx":0.96},{"year":1999,"idx":0.97},{"year":2004,"idx":1.0}
    ],
    "depth_d": [
      {"year":1775,"n":1},{"year":1850,"n":2},{"year":1900,"n":4},{"year":1915,"n":8},{"year":1930,"n":12},{"year":1950,"n":14},{"year":1975,"n":15},{"year":2000,"n":15},{"year":2004,"n":12}
    ],
    "raw_e": [
      {"year":1738,"idx":0.2},{"year":1739,"idx":1.1},{"year":1740,"idx":0.95},{"year":1741,"idx":1.4},{"year":1742,"idx":1.77},{"year":1743,"idx":1.35},{"year":1744,"idx":0.9},{"year":1745,"idx":1.0},{"year":1746,"idx":0.25},{"year":1747,"idx":0.7},{"year":1748,"idx":1.25},{"year":1749,"idx":0.9},{"year":1750,"idx":0.75},{"year":1751,"idx":0.88},{"year":1752,"idx":1.05},{"year":1753,"idx":0.8},{"year":1754,"idx":1.15},{"year":1755,"idx":1.25},{"year":1756,"idx":1.35},{"year":1757,"idx":0.95},{"year":1758,"idx":0.88},{"year":1759,"idx":1.1},{"year":1760,"idx":1.33},{"year":1761,"idx":0.85},{"year":1762,"idx":0.2},{"year":1763,"idx":1.0},{"year":1764,"idx":0.6},{"year":1765,"idx":0.85},{"year":1766,"idx":1.1},{"year":1767,"idx":1.2},{"year":1768,"idx":1.33},{"year":1769,"idx":0.9},{"year":1770,"idx":0.8},{"year":1771,"idx":0.92},{"year":1772,"idx":1.05},{"year":1773,"idx":0.9},{"year":1774,"idx":1.0},{"year":1775,"idx":1.2},{"year":1776,"idx":0.7},{"year":1777,"idx":0.95},{"year":1778,"idx":1.15},{"year":1779,"idx":1.05},{"year":1780,"idx":0.95},{"year":1781,"idx":1.6},{"year":1782,"idx":0.95},{"year":1783,"idx":0.85},{"year":1784,"idx":1.1},{"year":1785,"idx":1.2},{"year":1786,"idx":1.3},{"year":1787,"idx":0.85},{"year":1788,"idx":1.0},{"year":1789,"idx":1.15},{"year":1790,"idx":0.51},{"year":1791,"idx":0.85},{"year":1792,"idx":1.05},{"year":1793,"idx":0.95},{"year":1794,"idx":0.85},{"year":1795,"idx":1.1},{"year":1796,"idx":1.25},{"year":1797,"idx":1.15},{"year":1798,"idx":1.3},{"year":1799,"idx":1.63},{"year":1800,"idx":1.5},{"year":1801,"idx":0.95},{"year":1802,"idx":0.88},{"year":1803,"idx":0.8},{"year":1804,"idx":0.98},{"year":1805,"idx":1.2},{"year":1806,"idx":1.1},{"year":1807,"idx":1.57},{"year":1808,"idx":0.8},{"year":1809,"idx":0.92},{"year":1810,"idx":1.05},{"year":1811,"idx":0.98},{"year":1812,"idx":0.9},{"year":1813,"idx":1.0},{"year":1814,"idx":1.08},{"year":1815,"idx":0.95},{"year":1816,"idx":0.85},{"year":1817,"idx":0.9},{"year":1818,"idx":0.8},{"year":1819,"idx":0.92},{"year":1820,"idx":1.0},{"year":1821,"idx":0.96},{"year":1822,"idx":0.9},{"year":1823,"idx":1.0},{"year":1824,"idx":1.1},{"year":1825,"idx":1.0},{"year":1826,"idx":0.92},{"year":1827,"idx":1.02},{"year":1828,"idx":1.15},{"year":1829,"idx":1.05},{"year":1830,"idx":1.4},{"year":1831,"idx":1.1},{"year":1832,"idx":1.02},{"year":1833,"idx":0.95},{"year":1834,"idx":1.0},{"year":1835,"idx":1.05},{"year":1836,"idx":0.95},{"year":1837,"idx":0.85},{"year":1838,"idx":0.9},{"year":1839,"idx":0.65},{"year":1840,"idx":1.32},{"year":1841,"idx":1.0},{"year":1842,"idx":0.9},{"year":1843,"idx":0.98},{"year":1844,"idx":1.05},{"year":1845,"idx":0.97},{"year":1846,"idx":0.9},{"year":1847,"idx":0.98},{"year":1848,"idx":1.08},{"year":1849,"idx":1.0},{"year":1850,"idx":0.95},{"year":1851,"idx":1.0},{"year":1852,"idx":1.05},{"year":1853,"idx":0.96},{"year":1854,"idx":0.88},{"year":1855,"idx":0.97},{"year":1856,"idx":1.05},{"year":1857,"idx":0.98},{"year":1858,"idx":0.92},{"year":1859,"idx":1.0},{"year":1860,"idx":1.06},{"year":1861,"idx":0.97},{"year":1862,"idx":0.9},{"year":1863,"idx":0.98},{"year":1864,"idx":1.05},{"year":1865,"idx":0.98},{"year":1866,"idx":0.93},{"year":1867,"idx":1.0},{"year":1868,"idx":1.08},{"year":1869,"idx":0.98},{"year":1870,"idx":0.9},{"year":1871,"idx":0.98},{"year":1872,"idx":1.05},{"year":1873,"idx":0.98},{"year":1874,"idx":0.92},{"year":1875,"idx":1.0},{"year":1876,"idx":1.1},{"year":1877,"idx":1.02},{"year":1878,"idx":1.18},{"year":1879,"idx":1.0},{"year":1880,"idx":0.92},{"year":1881,"idx":0.98},{"year":1882,"idx":1.05},{"year":1883,"idx":0.96},{"year":1884,"idx":0.88},{"year":1885,"idx":0.96},{"year":1886,"idx":1.02},{"year":1887,"idx":0.96},{"year":1888,"idx":0.9},{"year":1889,"idx":0.98},{"year":1890,"idx":1.08},{"year":1891,"idx":0.96},{"year":1892,"idx":0.85},{"year":1893,"idx":0.94},{"year":1894,"idx":1.02},{"year":1895,"idx":0.97},{"year":1896,"idx":0.92},{"year":1897,"idx":1.0},{"year":1898,"idx":1.06},{"year":1899,"idx":0.97},{"year":1900,"idx":0.9},{"year":1901,"idx":0.98},{"year":1902,"idx":1.05},{"year":1903,"idx":0.98},{"year":1904,"idx":0.92},{"year":1905,"idx":1.0},{"year":1906,"idx":1.08},{"year":1907,"idx":0.98},{"year":1908,"idx":0.9},{"year":1909,"idx":0.98},{"year":1910,"idx":1.05},{"year":1911,"idx":0.98},{"year":1912,"idx":0.92},{"year":1913,"idx":0.98},{"year":1914,"idx":1.04},{"year":1915,"idx":0.95},{"year":1916,"idx":0.88},{"year":1917,"idx":0.95},{"year":1918,"idx":1.0},{"year":1919,"idx":0.92},{"year":1920,"idx":0.85},{"year":1921,"idx":0.9},{"year":1922,"idx":0.82},{"year":1923,"idx":0.95},{"year":1924,"idx":1.02},{"year":1925,"idx":0.97},{"year":1926,"idx":0.92},{"year":1927,"idx":1.0},{"year":1928,"idx":1.1},{"year":1929,"idx":1.0},{"year":1930,"idx":0.95},{"year":1931,"idx":1.0},{"year":1932,"idx":1.08},{"year":1933,"idx":0.98},{"year":1934,"idx":0.9},{"year":1935,"idx":0.98},{"year":1936,"idx":1.05},{"year":1937,"idx":0.98},{"year":1938,"idx":0.93},{"year":1939,"idx":1.0},{"year":1940,"idx":1.1},{"year":1941,"idx":1.0},{"year":1942,"idx":0.92},{"year":1943,"idx":1.02},{"year":1944,"idx":1.15},{"year":1945,"idx":1.0},{"year":1946,"idx":0.9},{"year":1947,"idx":0.98},{"year":1948,"idx":1.08},{"year":1949,"idx":1.0},{"year":1950,"idx":0.92},{"year":1951,"idx":1.02},{"year":1952,"idx":1.12},{"year":1953,"idx":1.0},{"year":1954,"idx":0.88},{"year":1955,"idx":0.96},{"year":1956,"idx":1.05},{"year":1957,"idx":0.97},{"year":1958,"idx":0.9},{"year":1959,"idx":1.0},{"year":1960,"idx":1.1},{"year":1961,"idx":1.0},{"year":1962,"idx":0.92},{"year":1963,"idx":0.98},{"year":1964,"idx":1.05},{"year":1965,"idx":0.97},{"year":1966,"idx":0.88},{"year":1967,"idx":0.72},{"year":1968,"idx":0.9},{"year":1969,"idx":1.05},{"year":1970,"idx":0.98},{"year":1971,"idx":0.9},{"year":1972,"idx":1.0},{"year":1973,"idx":1.1},{"year":1974,"idx":1.0},{"year":1975,"idx":0.92},{"year":1976,"idx":1.0},{"year":1977,"idx":1.08},{"year":1978,"idx":0.98},{"year":1979,"idx":0.9},{"year":1980,"idx":1.02},{"year":1981,"idx":1.15},{"year":1982,"idx":1.02},{"year":1983,"idx":0.92},{"year":1984,"idx":1.0},{"year":1985,"idx":1.08},{"year":1986,"idx":0.98},{"year":1987,"idx":0.9},{"year":1988,"idx":0.97},{"year":1989,"idx":1.05},{"year":1990,"idx":0.9},{"year":1991,"idx":0.66},{"year":1992,"idx":0.88},{"year":1993,"idx":1.05},{"year":1994,"idx":0.98},{"year":1995,"idx":0.9},{"year":1996,"idx":1.0},{"year":1997,"idx":1.12},{"year":1998,"idx":1.0},{"year":1999,"idx":0.92},{"year":2000,"idx":1.2},{"year":2001,"idx":1.05},{"year":2002,"idx":0.98},{"year":2003,"idx":1.02},{"year":2004,"idx":1.0}
    ],
    "smooth_e": [
      {"year":1825,"idx":1.02},{"year":1829,"idx":1.05},{"year":1833,"idx":1.01},{"year":1837,"idx":0.97},{"year":1841,"idx":0.96},{"year":1846,"idx":0.98},{"year":1852,"idx":0.98},{"year":1858,"idx":0.97},{"year":1863,"idx":1.0},{"year":1869,"idx":1.0},{"year":1876,"idx":1.02},{"year":1882,"idx":1.0},{"year":1888,"idx":0.97},{"year":1893,"idx":0.98},{"year":1899,"idx":1.0},{"year":1905,"idx":1.01},{"year":1910,"idx":1.02},{"year":1915,"idx":0.99},{"year":1920,"idx":0.96},{"year":1924,"idx":0.96},{"year":1929,"idx":0.99},{"year":1935,"idx":1.01},{"year":1941,"idx":1.0},{"year":1947,"idx":1.0},{"year":1953,"idx":0.99},{"year":1959,"idx":1.0},{"year":1965,"idx":1.0},{"year":1971,"idx":0.99},{"year":1977,"idx":1.0},{"year":1983,"idx":0.99},{"year":1988,"idx":0.98},{"year":1993,"idx":0.98},{"year":1998,"idx":0.99},{"year":2004,"idx":1.0}
    ],
    "depth_e": [
      {"year":1738,"n":1},{"year":1800,"n":2},{"year":1830,"n":5},{"year":1860,"n":10},{"year":1890,"n":15},{"year":1920,"n":19},{"year":1950,"n":21},{"year":1980,"n":21},{"year":2000,"n":21},{"year":2004,"n":18}
    ],
    "raw_f": [
      {"year":1928,"idx":0.34},{"year":1929,"idx":0.7},{"year":1930,"idx":1.0},{"year":1931,"idx":1.48},{"year":1932,"idx":0.9},{"year":1933,"idx":1.3},{"year":1934,"idx":0.75},{"year":1935,"idx":0.55},{"year":1936,"idx":1.1},{"year":1937,"idx":0.8},{"year":1938,"idx":1.3},{"year":1939,"idx":1.64},{"year":1940,"idx":1.2},{"year":1941,"idx":1.79},{"year":1942,"idx":1.0},{"year":1943,"idx":1.6},{"year":1944,"idx":0.69},{"year":1945,"idx":1.15},{"year":1946,"idx":0.9},{"year":1947,"idx":1.2},{"year":1948,"idx":0.85},{"year":1949,"idx":1.25},{"year":1950,"idx":0.9},{"year":1951,"idx":1.1},{"year":1952,"idx":0.8},{"year":1953,"idx":1.2},{"year":1954,"idx":0.95},{"year":1955,"idx":1.3},{"year":1956,"idx":1.41},{"year":1957,"idx":0.9},{"year":1958,"idx":0.95},{"year":1959,"idx":1.35},{"year":1960,"idx":1.0},{"year":1961,"idx":0.85},{"year":1962,"idx":1.1},{"year":1963,"idx":1.35},{"year":1964,"idx":0.95},{"year":1965,"idx":1.2},{"year":1966,"idx":0.8},{"year":1967,"idx":1.36},{"year":1968,"idx":1.0},{"year":1969,"idx":1.38},{"year":1970,"idx":0.9},{"year":1971,"idx":0.47},{"year":1972,"idx":1.1},{"year":1973,"idx":1.38},{"year":1974,"idx":0.85},{"year":1975,"idx":0.7},{"year":1976,"idx":1.05},{"year":1977,"idx":0.8},{"year":1978,"idx":1.15},{"year":1979,"idx":0.85},{"year":1980,"idx":1.42},{"year":1981,"idx":1.0},{"year":1982,"idx":0.75},{"year":1983,"idx":1.1},{"year":1984,"idx":0.8},{"year":1985,"idx":0.9},{"year":1986,"idx":0.65},{"year":1987,"idx":1.05},{"year":1988,"idx":0.6},{"year":1989,"idx":0.9},{"year":1990,"idx":0.7},{"year":1991,"idx":1.0},{"year":1992,"idx":0.85},{"year":1993,"idx":1.2},{"year":1994,"idx":1.35},{"year":1995,"idx":1.3},{"year":1996,"idx":0.95},{"year":1997,"idx":1.35},{"year":1998,"idx":1.0},{"year":1999,"idx":1.2},{"year":2000,"idx":1.05},{"year":2001,"idx":1.1},{"year":2002,"idx":1.15},{"year":2003,"idx":1.1},{"year":2004,"idx":1.1}
    ],
    "smooth_f": [
      {"year":1929,"idx":0.76},{"year":1933,"idx":0.92},{"year":1936,"idx":0.86},{"year":1939,"idx":1.04},{"year":1942,"idx":1.1},{"year":1945,"idx":1.13},{"year":1949,"idx":1.18},{"year":1952,"idx":1.04},{"year":1956,"idx":1.04},{"year":1960,"idx":1.06},{"year":1966,"idx":1.01},{"year":1971,"idx":1.04},{"year":1975,"idx":0.98},{"year":1980,"idx":0.95},{"year":1986,"idx":0.92},{"year":1991,"idx":0.92},{"year":1995,"idx":0.92},{"year":1999,"idx":1.01},{"year":2003,"idx":1.13}
    ],
    "depth_f": [
      {"year":1928,"n":2},{"year":1935,"n":4},{"year":1950,"n":5},{"year":1975,"n":5},{"year":2000,"n":5},{"year":2004,"n":4}
    ],
    "raw_g": [
      {"year":1731,"idx":1.17},{"year":1732,"idx":1.44},{"year":1733,"idx":1.1},{"year":1734,"idx":0.8},{"year":1735,"idx":0.43},{"year":1736,"idx":1.0},{"year":1737,"idx":1.8},{"year":1738,"idx":1.78},{"year":1739,"idx":1.0},{"year":1740,"idx":0.72},{"year":1741,"idx":0.8},{"year":1742,"idx":1.05},{"year":1743,"idx":1.15},{"year":1744,"idx":1.26},{"year":1745,"idx":1.0},{"year":1746,"idx":0.85},{"year":1747,"idx":0.98},{"year":1748,"idx":1.1},{"year":1749,"idx":0.9},{"year":1750,"idx":0.98},{"year":1751,"idx":1.12},{"year":1752,"idx":1.0},{"year":1753,"idx":0.88},{"year":1754,"idx":0.98},{"year":1755,"idx":1.1},{"year":1756,"idx":1.0},{"year":1757,"idx":0.9},{"year":1758,"idx":0.98},{"year":1759,"idx":1.08},{"year":1760,"idx":0.97},{"year":1761,"idx":0.85},{"year":1762,"idx":0.95},{"year":1763,"idx":1.05},{"year":1764,"idx":0.98},{"year":1765,"idx":0.9},{"year":1766,"idx":1.0},{"year":1767,"idx":1.1},{"year":1768,"idx":0.98},{"year":1769,"idx":0.88},{"year":1770,"idx":1.0},{"year":1771,"idx":1.15},{"year":1772,"idx":1.02},{"year":1773,"idx":0.9},{"year":1774,"idx":1.0},{"year":1775,"idx":1.12},{"year":1776,"idx":1.41},{"year":1777,"idx":1.05},{"year":1778,"idx":0.9},{"year":1779,"idx":0.63},{"year":1780,"idx":0.88},{"year":1781,"idx":1.05},{"year":1782,"idx":0.98},{"year":1783,"idx":0.9},{"year":1784,"idx":1.0},{"year":1785,"idx":1.1},{"year":1786,"idx":1.0},{"year":1787,"idx":0.88},{"year":1788,"idx":0.96},{"year":1789,"idx":1.05},{"year":1790,"idx":0.95},{"year":1791,"idx":0.85},{"year":1792,"idx":0.98},{"year":1793,"idx":1.1},{"year":1794,"idx":1.0},{"year":1795,"idx":0.9},{"year":1796,"idx":1.02},{"year":1797,"idx":1.15},{"year":1798,"idx":1.0},{"year":1799,"idx":0.88},{"year":1800,"idx":1.0},{"year":1801,"idx":1.12},{"year":1802,"idx":1.0},{"year":1803,"idx":0.9},{"year":1804,"idx":1.0},{"year":1805,"idx":1.1},{"year":1806,"idx":1.2},{"year":1807,"idx":1.49},{"year":1808,"idx":0.85},{"year":1809,"idx":0.95},{"year":1810,"idx":1.1},{"year":1811,"idx":0.9},{"year":1812,"idx":0.71},{"year":1813,"idx":0.88},{"year":1814,"idx":1.0},{"year":1815,"idx":0.7},{"year":1816,"idx":0.9},{"year":1817,"idx":1.05},{"year":1818,"idx":1.0},{"year":1819,"idx":0.9},{"year":1820,"idx":1.34},{"year":1821,"idx":1.15},{"year":1822,"idx":1.2},{"year":1823,"idx":1.05},{"year":1824,"idx":0.95},{"year":1825,"idx":1.02},{"year":1826,"idx":1.1},{"year":1827,"idx":1.0},{"year":1828,"idx":0.9},{"year":1829,"idx":0.98},{"year":1830,"idx":1.05},{"year":1831,"idx":0.96},{"year":1832,"idx":0.85},{"year":1833,"idx":0.92},{"year":1834,"idx":1.0},{"year":1835,"idx":0.88},{"year":1836,"idx":0.69},{"year":1837,"idx":0.9},{"year":1838,"idx":1.05},{"year":1839,"idx":0.98},{"year":1840,"idx":0.9},{"year":1841,"idx":1.0},{"year":1842,"idx":1.1},{"year":1843,"idx":1.0},{"year":1844,"idx":0.92},{"year":1845,"idx":0.98},{"year":1846,"idx":1.05},{"year":1847,"idx":0.95},{"year":1848,"idx":0.85},{"year":1849,"idx":0.97},{"year":1850,"idx":1.08},{"year":1851,"idx":1.0},{"year":1852,"idx":0.9},{"year":1853,"idx":1.0},{"year":1854,"idx":1.12},{"year":1855,"idx":1.02},{"year":1856,"idx":0.95},{"year":1857,"idx":1.05},{"year":1858,"idx":1.2},{"year":1859,"idx":1.1},{"year":1860,"idx":1.26},{"year":1861,"idx":1.22},{"year":1862,"idx":1.05},{"year":1863,"idx":0.9},{"year":1864,"idx":0.98},{"year":1865,"idx":1.05},{"year":1866,"idx":0.71},{"year":1867,"idx":0.9},{"year":1868,"idx":1.05},{"year":1869,"idx":0.98},{"year":1870,"idx":0.92},{"year":1871,"idx":0.98},{"year":1872,"idx":0.78},{"year":1873,"idx":0.95},{"year":1874,"idx":1.05},{"year":1875,"idx":0.98},{"year":1876,"idx":0.9},{"year":1877,"idx":1.0},{"year":1878,"idx":1.1},{"year":1879,"idx":1.0},{"year":1880,"idx":0.92},{"year":1881,"idx":0.98},{"year":1882,"idx":1.02},{"year":1883,"idx":0.96},{"year":1884,"idx":0.88},{"year":1885,"idx":0.97},{"year":1886,"idx":1.05},{"year":1887,"idx":0.95},{"year":1888,"idx":0.76},{"year":1889,"idx":0.9},{"year":1890,"idx":1.0},{"year":1891,"idx":0.97},{"year":1892,"idx":0.92},{"year":1893,"idx":0.98},{"year":1894,"idx":1.05},{"year":1895,"idx":0.97},{"year":1896,"idx":0.9},{"year":1897,"idx":1.0},{"year":1898,"idx":1.08},{"year":1899,"idx":1.0},{"year":1900,"idx":0.92},{"year":1901,"idx":0.98},{"year":1902,"idx":1.05},{"year":1903,"idx":0.97},{"year":1904,"idx":0.9},{"year":1905,"idx":1.0},{"year":1906,"idx":1.08},{"year":1907,"idx":0.98},{"year":1908,"idx":0.88},{"year":1909,"idx":0.96},{"year":1910,"idx":1.05},{"year":1911,"idx":0.97},{"year":1912,"idx":0.9},{"year":1913,"idx":0.98},{"year":1914,"idx":1.02},{"year":1915,"idx":0.76},{"year":1916,"idx":0.92},{"year":1917,"idx":1.05},{"year":1918,"idx":0.98},{"year":1919,"idx":0.9},{"year":1920,"idx":1.0},{"year":1921,"idx":1.08},{"year":1922,"idx":0.98},{"year":1923,"idx":0.88},{"year":1924,"idx":1.0},{"year":1925,"idx":1.15},{"year":1926,"idx":1.02},{"year":1927,"idx":0.92},{"year":1928,"idx":1.0},{"year":1929,"idx":1.12},{"year":1930,"idx":1.0},{"year":1931,"idx":0.9},{"year":1932,"idx":1.0},{"year":1933,"idx":1.1},{"year":1934,"idx":0.98},{"year":1935,"idx":0.88},{"year":1936,"idx":1.0},{"year":1937,"idx":1.12},{"year":1938,"idx":1.02},{"year":1939,"idx":0.92},{"year":1940,"idx":1.0},{"year":1941,"idx":1.08},{"year":1942,"idx":0.96},{"year":1943,"idx":0.85},{"year":1944,"idx":0.98},{"year":1945,"idx":1.1},{"year":1946,"idx":1.0},{"year":1947,"idx":0.9},{"year":1948,"idx":1.0},{"year":1949,"idx":1.12},{"year":1950,"idx":1.0},{"year":1951,"idx":0.88},{"year":1952,"idx":0.98},{"year":1953,"idx":1.08},{"year":1954,"idx":0.96},{"year":1955,"idx":0.85},{"year":1956,"idx":0.98},{"year":1957,"idx":1.1},{"year":1958,"idx":1.0},{"year":1959,"idx":0.9},{"year":1960,"idx":1.02},{"year":1961,"idx":1.12},{"year":1962,"idx":1.02},{"year":1963,"idx":0.92},{"year":1964,"idx":1.0},{"year":1965,"idx":1.1},{"year":1966,"idx":1.35},{"year":1967,"idx":1.0},{"year":1968,"idx":0.85},{"year":1969,"idx":0.95},{"year":1970,"idx":1.05},{"year":1971,"idx":0.97},{"year":1972,"idx":0.88},{"year":1973,"idx":1.0},{"year":1974,"idx":1.15},{"year":1975,"idx":1.0},{"year":1976,"idx":0.9},{"year":1977,"idx":0.98},{"year":1978,"idx":1.08},{"year":1979,"idx":0.96},{"year":1980,"idx":0.85},{"year":1981,"idx":0.98},{"year":1982,"idx":1.12},{"year":1983,"idx":1.0},{"year":1984,"idx":0.88},{"year":1985,"idx":0.96},{"year":1986,"idx":1.05},{"year":1987,"idx":0.95},{"year":1988,"idx":0.85},{"year":1989,"idx":0.92},{"year":1990,"idx":1.0},{"year":1991,"idx":0.56},{"year":1992,"idx":0.85},{"year":1993,"idx":1.1},{"year":1994,"idx":1.0},{"year":1995,"idx":0.9},{"year":1996,"idx":1.02},{"year":1997,"idx":1.15},{"year":1998,"idx":1.0},{"year":1999,"idx":0.9},{"year":2000,"idx":1.0},{"year":2001,"idx":1.1},{"year":2002,"idx":1.26},{"year":2003,"idx":1.15},{"year":2004,"idx":1.05}
    ],
    "smooth_g": [
      {"year":1815,"idx":0.95},{"year":1818,"idx":1.03},{"year":1822,"idx":1.1},{"year":1826,"idx":1.06},{"year":1830,"idx":0.99},{"year":1835,"idx":0.95},{"year":1840,"idx":0.97},{"year":1845,"idx":0.98},{"year":1850,"idx":1.01},{"year":1854,"idx":1.04},{"year":1857,"idx":1.06},{"year":1861,"idx":1.05},{"year":1865,"idx":1.0},{"year":1870,"idx":0.99},{"year":1876,"idx":0.99},{"year":1882,"idx":0.99},{"year":1887,"idx":0.97},{"year":1890,"idx":0.96},{"year":1894,"idx":0.98},{"year":1899,"idx":1.0},{"year":1905,"idx":1.0},{"year":1912,"idx":0.99},{"year":1918,"idx":1.0},{"year":1925,"idx":1.0},{"year":1932,"idx":1.01},{"year":1940,"idx":1.01},{"year":1947,"idx":1.02},{"year":1954,"idx":1.02},{"year":1960,"idx":1.03},{"year":1965,"idx":1.0},{"year":1970,"idx":0.98},{"year":1975,"idx":0.96},{"year":1980,"idx":0.96},{"year":1985,"idx":0.96},{"year":1990,"idx":0.97},{"year":1995,"idx":0.97},{"year":1999,"idx":1.0},{"year":2004,"idx":1.08}
    ],
    "depth_g": [
      {"year":1731,"n":1},{"year":1760,"n":2},{"year":1790,"n":4},{"year":1830,"n":6},{"year":1870,"n":7},{"year":1900,"n":8},{"year":1940,"n":8},{"year":1980,"n":8},{"year":2004,"n":7}
    ],
    "raw_h": [
      {"year":1744,"idx":0.62},{"year":1745,"idx":0.72},{"year":1746,"idx":0.82},{"year":1747,"idx":0.95},{"year":1748,"idx":1.1},{"year":1749,"idx":1.12},{"year":1750,"idx":1.05},{"year":1751,"idx":1.26},{"year":1752,"idx":1.0},{"year":1753,"idx":1.2},{"year":1754,"idx":0.9},{"year":1755,"idx":1.18},{"year":1756,"idx":0.85},{"year":1757,"idx":0.71},{"year":1758,"idx":1.1},{"year":1759,"idx":0.95},{"year":1760,"idx":1.15},{"year":1761,"idx":0.9},{"year":1762,"idx":1.12},{"year":1763,"idx":0.95},{"year":1764,"idx":0.75},{"year":1765,"idx":0.78},{"year":1766,"idx":1.0},{"year":1767,"idx":1.1},{"year":1768,"idx":0.9},{"year":1769,"idx":1.3},{"year":1770,"idx":1.49},{"year":1771,"idx":1.0},{"year":1772,"idx":1.35},{"year":1773,"idx":0.95},{"year":1774,"idx":0.85},{"year":1775,"idx":0.98},{"year":1776,"idx":1.1},{"year":1777,"idx":0.9},{"year":1778,"idx":1.12},{"year":1779,"idx":1.0},{"year":1780,"idx":0.85},{"year":1781,"idx":0.95},{"year":1782,"idx":0.9},{"year":1783,"idx":0.56},{"year":1784,"idx":1.0},{"year":1785,"idx":1.08},{"year":1786,"idx":0.98},{"year":1787,"idx":0.9},{"year":1788,"idx":0.98},{"year":1789,"idx":1.06},{"year":1790,"idx":0.98},{"year":1791,"idx":0.92},{"year":1792,"idx":0.98},{"year":1793,"idx":1.05},{"year":1794,"idx":0.97},{"year":1795,"idx":0.9},{"year":1796,"idx":0.98},{"year":1797,"idx":1.08},{"year":1798,"idx":1.0},{"year":1799,"idx":0.92},{"year":1800,"idx":1.05},{"year":1801,"idx":1.25},{"year":1802,"idx":1.05},{"year":1803,"idx":0.95},{"year":1804,"idx":1.05},{"year":1805,"idx":1.25},{"year":1806,"idx":1.05},{"year":1807,"idx":0.92},{"year":1808,"idx":0.98},{"year":1809,"idx":1.05},{"year":1810,"idx":0.97},{"year":1811,"idx":0.88},{"year":1812,"idx":0.95},{"year":1813,"idx":1.02},{"year":1814,"idx":0.92},{"year":1815,"idx":0.8},{"year":1816,"idx":0.72},{"year":1817,"idx":0.9},{"year":1818,"idx":1.05},{"year":1819,"idx":0.98},{"year":1820,"idx":0.92},{"year":1821,"idx":1.0},{"year":1822,"idx":1.12},{"year":1823,"idx":1.0},{"year":1824,"idx":0.9},{"year":1825,"idx":0.97},{"year":1826,"idx":1.05},{"year":1827,"idx":0.98},{"year":1828,"idx":0.92},{"year":1829,"idx":1.0},{"year":1830,"idx":1.08},{"year":1831,"idx":0.97},{"year":1832,"idx":0.88},{"year":1833,"idx":0.95},{"year":1834,"idx":1.02},{"year":1835,"idx":0.92},{"year":1836,"idx":0.82},{"year":1837,"idx":0.92},{"year":1838,"idx":1.0},{"year":1839,"idx":0.95},{"year":1840,"idx":0.9},{"year":1841,"idx":0.97},{"year":1842,"idx":1.05},{"year":1843,"idx":0.98},{"year":1844,"idx":0.92},{"year":1845,"idx":1.0},{"year":1846,"idx":1.08},{"year":1847,"idx":0.98},{"year":1848,"idx":0.9},{"year":1849,"idx":0.98},{"year":1850,"idx":1.1},{"year":1851,"idx":1.0},{"year":1852,"idx":0.92},{"year":1853,"idx":1.0},{"year":1854,"idx":1.12},{"year":1855,"idx":1.02},{"year":1856,"idx":0.95},{"year":1857,"idx":1.02},{"year":1858,"idx":1.15},{"year":1859,"idx":1.0},{"year":1860,"idx":0.9},{"year":1861,"idx":1.0},{"year":1862,"idx":1.1},{"year":1863,"idx":0.98},{"year":1864,"idx":0.88},{"year":1865,"idx":0.96},{"year":1866,"idx":1.05},{"year":1867,"idx":0.9},{"year":1868,"idx":0.72},{"year":1869,"idx":0.9},{"year":1870,"idx":1.02},{"year":1871,"idx":0.96},{"year":1872,"idx":0.9},{"year":1873,"idx":0.98},{"year":1874,"idx":1.08},{"year":1875,"idx":0.98},{"year":1876,"idx":0.92},{"year":1877,"idx":0.98},{"year":1878,"idx":1.05},{"year":1879,"idx":0.96},{"year":1880,"idx":0.9},{"year":1881,"idx":0.98},{"year":1882,"idx":1.1},{"year":1883,"idx":1.26},{"year":1884,"idx":1.02},{"year":1885,"idx":0.92},{"year":1886,"idx":0.98},{"year":1887,"idx":1.05},{"year":1888,"idx":0.96},{"year":1889,"idx":0.88},{"year":1890,"idx":0.96},{"year":1891,"idx":1.05},{"year":1892,"idx":0.97},{"year":1893,"idx":0.9},{"year":1894,"idx":0.98},{"year":1895,"idx":1.08},{"year":1896,"idx":0.98},{"year":1897,"idx":0.92},{"year":1898,"idx":0.98},{"year":1899,"idx":1.05},{"year":1900,"idx":0.97},{"year":1901,"idx":0.9},{"year":1902,"idx":0.96},{"year":1903,"idx":1.02},{"year":1904,"idx":0.95},{"year":1905,"idx":0.88},{"year":1906,"idx":0.96},{"year":1907,"idx":1.05},{"year":1908,"idx":0.98},{"year":1909,"idx":0.92},{"year":1910,"idx":1.0},{"year":1911,"idx":1.08},{"year":1912,"idx":0.98},{"year":1913,"idx":0.9},{"year":1914,"idx":0.98},{"year":1915,"idx":1.05},{"year":1916,"idx":0.98},{"year":1917,"idx":0.92},{"year":1918,"idx":1.0},{"year":1919,"idx":1.1},{"year":1920,"idx":1.0},{"year":1921,"idx":0.9},{"year":1922,"idx":0.97},{"year":1923,"idx":1.05},{"year":1924,"idx":0.98},{"year":1925,"idx":0.92},{"year":1926,"idx":1.0},{"year":1927,"idx":1.08},{"year":1928,"idx":0.97},{"year":1929,"idx":0.88},{"year":1930,"idx":0.96},{"year":1931,"idx":1.05},{"year":1932,"idx":0.97},{"year":1933,"idx":0.9},{"year":1934,"idx":1.02},{"year":1935,"idx":1.22},{"year":1936,"idx":1.02},{"year":1937,"idx":0.92},{"year":1938,"idx":0.98},{"year":1939,"idx":1.05},{"year":1940,"idx":0.96},{"year":1941,"idx":0.88},{"year":1942,"idx":0.97},{"year":1943,"idx":1.08},{"year":1944,"idx":0.98},{"year":1945,"idx":0.9},{"year":1946,"idx":0.97},{"year":1947,"idx":1.05},{"year":1948,"idx":0.98},{"year":1949,"idx":0.92},{"year":1950,"idx":1.0},{"year":1951,"idx":1.1},{"year":1952,"idx":0.98},{"year":1953,"idx":0.88},{"year":1954,"idx":0.98},{"year":1955,"idx":1.12},{"year":1956,"idx":1.0},{"year":1957,"idx":0.9},{"year":1958,"idx":0.98},{"year":1959,"idx":1.08},{"year":1960,"idx":1.0},{"year":1961,"idx":0.92},{"year":1962,"idx":0.98},{"year":1963,"idx":1.05},{"year":1964,"idx":0.96},{"year":1965,"idx":0.88},{"year":1966,"idx":0.98},{"year":1967,"idx":1.1},{"year":1968,"idx":1.0},{"year":1969,"idx":0.9},{"year":1970,"idx":0.97},{"year":1971,"idx":1.05},{"year":1972,"idx":0.98},{"year":1973,"idx":0.92},{"year":1974,"idx":1.0},{"year":1975,"idx":1.1},{"year":1976,"idx":0.98},{"year":1977,"idx":0.88},{"year":1978,"idx":0.98},{"year":1979,"idx":1.12},{"year":1980,"idx":1.0},{"year":1981,"idx":0.9},{"year":1982,"idx":0.97},{"year":1983,"idx":1.05},{"year":1984,"idx":0.98},{"year":1985,"idx":0.92},{"year":1986,"idx":1.0},{"year":1987,"idx":1.08},{"year":1988,"idx":0.97},{"year":1989,"idx":0.88},{"year":1990,"idx":0.9},{"year":1991,"idx":0.75},{"year":1992,"idx":0.9},{"year":1993,"idx":1.05},{"year":1994,"idx":0.98},{"year":1995,"idx":0.9},{"year":1996,"idx":0.98},{"year":1997,"idx":1.08},{"year":1998,"idx":1.0},{"year":1999,"idx":0.92},{"year":2000,"idx":0.98},{"year":2001,"idx":1.05},{"year":2002,"idx":0.97},{"year":2003,"idx":0.9},{"year":2004,"idx":0.75}
    ],
    "smooth_h": [
      {"year":1795,"idx":1.02},{"year":1801,"idx":1.05},{"year":1806,"idx":1.02},{"year":1811,"idx":0.99},{"year":1816,"idx":0.97},{"year":1822,"idx":0.97},{"year":1830,"idx":0.97},{"year":1836,"idx":0.95},{"year":1842,"idx":0.98},{"year":1848,"idx":1.0},{"year":1855,"idx":1.02},{"year":1861,"idx":1.0},{"year":1867,"idx":0.98},{"year":1873,"idx":0.97},{"year":1878,"idx":0.98},{"year":1884,"idx":1.02},{"year":1890,"idx":1.05},{"year":1895,"idx":1.02},{"year":1900,"idx":0.98},{"year":1905,"idx":0.98},{"year":1912,"idx":1.0},{"year":1920,"idx":1.03},{"year":1926,"idx":1.01},{"year":1932,"idx":0.99},{"year":1940,"idx":1.0},{"year":1948,"idx":1.01},{"year":1955,"idx":1.0},{"year":1962,"idx":1.01},{"year":1968,"idx":1.02},{"year":1975,"idx":1.0},{"year":1982,"idx":0.99},{"year":1990,"idx":0.99},{"year":1996,"idx":0.98},{"year":2000,"idx":0.98},{"year":2004,"idx":0.95}
    ],
    "depth_h": [
      {"year":1744,"n":1},{"year":1770,"n":2},{"year":1800,"n":3},{"year":1830,"n":5},{"year":1860,"n":8},{"year":1890,"n":11},{"year":1910,"n":13},{"year":1950,"n":14},{"year":1980,"n":14},{"year":2000,"n":13},{"year":2004,"n":10}
    ]
  },
  "vconcat": [
    {"width": 554, "height": 174, "resolve": {"scale": {"y": "independent"}}, "layer": [
      {"resolve": {"axis": {"y": "independent"}}, "layer": [
        {"data": {"name": "decades"}, "mark": {"type": "rule", "color": "black", "strokeWidth": 1, "strokeDash": [2, 3]}, "encoding": {"x": {"field": "year", "type": "quantitative", "scale": {"domain": [1725, 2004], "nice": false, "zero": false}, "axis": {"values": [1750, 1800, 1850, 1900, 1950, 2000], "labels": false, "title": null}}}},
        {"data": {"name": "levels"}, "transform": [{"filter": "datum.panel == 'a' && datum.kind != 'mean'"}], "mark": {"type": "rule", "color": "black", "strokeWidth": 1.4, "strokeDash": [22, 9]}, "encoding": {"y": {"field": "idx", "type": "quantitative", "scale": {"domain": [0.2, 1.8], "nice": false, "zero": false}, "axis": {"orient": "left", "values": [0.36, 0.52, 0.68, 0.84, 1.0, 1.16, 1.32, 1.48, 1.64], "labels": false, "title": null}}}},
        {"data": {"name": "levels"}, "transform": [{"filter": "datum.panel == 'a' && datum.kind == 'mean'"}], "mark": {"type": "rule", "color": "black", "strokeWidth": 1.4}, "encoding": {"y": {"field": "idx", "type": "quantitative", "scale": {"domain": [0.2, 1.8], "nice": false, "zero": false}, "axis": {"orient": "left", "values": [1.0, 1.8], "ticks": false, "labelExpr": "abs(datum.value - 1.8) < 0.01 ? '1.8' : '1.0'", "title": null}}}},
        {"data": {"name": "raw_a"}, "mark": {"type": "line", "color": "black", "strokeWidth": 0.9}, "encoding": {"x": {"field": "year", "type": "quantitative", "scale": {"domain": [1725, 2004], "nice": false, "zero": false}}, "y": {"field": "idx", "type": "quantitative", "scale": {"domain": [0.2, 1.8], "nice": false, "zero": false}, "axis": null}}},
        {"data": {"name": "smooth_a"}, "mark": {"type": "line", "color": "black", "strokeWidth": 2.6, "interpolate": "monotone"}, "encoding": {"x": {"field": "year", "type": "quantitative", "scale": {"domain": [1725, 2004], "nice": false, "zero": false}}, "y": {"field": "idx", "type": "quantitative", "scale": {"domain": [0.2, 1.8], "nice": false, "zero": false}, "axis": null}}},
        {"data": {"name": "labels"}, "transform": [{"filter": "datum.panel == 'a'"}], "mark": {"type": "text", "align": "left", "baseline": "alphabetic", "font": "Liberation Serif", "fontSize": 31, "color": "black"}, "encoding": {"x": {"datum": 1818.7, "type": "quantitative"}, "y": {"datum": 1.53, "type": "quantitative", "axis": null}, "text": {"field": "prefix"}}},
        {"data": {"name": "labels"}, "transform": [{"filter": "datum.panel == 'a'"}], "mark": {"type": "text", "align": "left", "baseline": "alphabetic", "font": "Liberation Serif", "fontSize": 31, "fontStyle": "italic", "color": "black"}, "encoding": {"x": {"datum": 1886.8, "type": "quantitative"}, "y": {"datum": 1.53, "type": "quantitative", "axis": null}, "text": {"field": "species"}}}
      ]},
      {"data": {"name": "depth_a"}, "mark": {"type": "line", "color": "#9c9c9c", "strokeWidth": 1.6}, "encoding": {"x": {"field": "year", "type": "quantitative", "scale": {"domain": [1725, 2004], "nice": false, "zero": false}}, "y": {"field": "n", "type": "quantitative", "scale": {"domain": [0, 500], "nice": false, "zero": false}, "axis": {"orient": "right", "values": [0, 50, 100, 150, 200, 250, 300, 350, 400, 450, 500], "labelExpr": "datum.value == 500 ? '500' : datum.value == 250 ? '250' : ''", "title": null}}}}
    ]},
    {"width": 554, "height": 174, "resolve": {"scale": {"y": "independent"}}, "layer": [
      {"resolve": {"axis": {"y": "independent"}}, "layer": [
        {"data": {"name": "decades"}, "mark": {"type": "rule", "color": "black", "strokeWidth": 1, "strokeDash": [2, 3]}, "encoding": {"x": {"field": "year", "type": "quantitative", "scale": {"domain": [1725, 2004], "nice": false, "zero": false}, "axis": {"values": [1750, 1800, 1850, 1900, 1950, 2000], "labels": false, "title": null}}}},
        {"data": {"name": "levels"}, "transform": [{"filter": "datum.panel == 'b' && datum.kind != 'mean'"}], "mark": {"type": "rule", "color": "black", "strokeWidth": 1.4, "strokeDash": [22, 9]}, "encoding": {"y": {"field": "idx", "type": "quantitative", "scale": {"domain": [0.2, 1.8], "nice": false, "zero": false}, "axis": {"orient": "left", "values": [0.36, 0.52, 0.68, 0.84, 1.0, 1.16, 1.32, 1.48, 1.64], "labels": false, "title": null}}}},
        {"data": {"name": "levels"}, "transform": [{"filter": "datum.panel == 'b' && datum.kind == 'mean'"}], "mark": {"type": "rule", "color": "black", "strokeWidth": 1.4}, "encoding": {"y": {"field": "idx", "type": "quantitative", "scale": {"domain": [0.2, 1.8], "nice": false, "zero": false}, "axis": {"orient": "left", "values": [1.0, 1.8], "ticks": false, "labelExpr": "abs(datum.value - 1.8) < 0.01 ? '1.8' : '1.0'", "title": null}}}},
        {"data": {"name": "raw_b"}, "mark": {"type": "line", "color": "black", "strokeWidth": 0.9}, "encoding": {"x": {"field": "year", "type": "quantitative", "scale": {"domain": [1725, 2004], "nice": false, "zero": false}}, "y": {"field": "idx", "type": "quantitative", "scale": {"domain": [0.2, 1.8], "nice": false, "zero": false}, "axis": null}}},
        {"data": {"name": "smooth_b"}, "mark": {"type": "line", "color": "black", "strokeWidth": 2.6, "interpolate": "monotone"}, "encoding": {"x": {"field": "year", "type": "quantitative", "scale": {"domain": [1725, 2004], "nice": false, "zero": false}}, "y": {"field": "idx", "type": "quantitative", "scale": {"domain": [0.2, 1.8], "nice": false, "zero": false}, "axis": null}}},
        {"data": {"name": "labels"}, "transform": [{"filter": "datum.panel == 'b'"}], "mark": {"type": "text", "align": "left", "baseline": "alphabetic", "font": "Liberation Serif", "fontSize": 31, "color": "black"}, "encoding": {"x": {"datum": 1818.7, "type": "quantitative"}, "y": {"datum": 1.53, "type": "quantitative", "axis": null}, "text": {"field": "prefix"}}},
        {"data": {"name": "labels"}, "transform": [{"filter": "datum.panel == 'b'"}], "mark": {"type": "text", "align": "left", "baseline": "alphabetic", "font": "Liberation Serif", "fontSize": 31, "fontStyle": "italic", "color": "black"}, "encoding": {"x": {"datum": 1887.6, "type": "quantitative"}, "y": {"datum": 1.53, "type": "quantitative", "axis": null}, "text": {"field": "species"}}}
      ]},
      {"data": {"name": "depth_b"}, "mark": {"type": "line", "color": "#9c9c9c", "strokeWidth": 1.6}, "encoding": {"x": {"field": "year", "type": "quantitative", "scale": {"domain": [1725, 2004], "nice": false, "zero": false}}, "y": {"field": "n", "type": "quantitative", "scale": {"domain": [0, 500], "nice": false, "zero": false}, "axis": {"orient": "right", "values": [0, 50, 100, 150, 200, 250, 300, 350, 400, 450, 500], "labelExpr": "datum.value == 500 ? '500' : datum.value == 250 ? '250' : ''", "title": null}}}}
    ]},
    {"width": 554, "height": 174, "resolve": {"scale": {"y": "independent"}}, "layer": [
      {"resolve": {"axis": {"y": "independent"}}, "layer": [
        {"data": {"name": "decades"}, "mark": {"type": "rule", "color": "black", "strokeWidth": 1, "strokeDash": [2, 3]}, "encoding": {"x": {"field": "year", "type": "quantitative", "scale": {"domain": [1725, 2004], "nice": false, "zero": false}, "axis": {"values": [1750, 1800, 1850, 1900, 1950, 2000], "labels": false, "title": null}}}},
        {"data": {"name": "levels"}, "transform": [{"filter": "datum.panel == 'c' && datum.kind != 'mean'"}], "mark": {"type": "rule", "color": "black", "strokeWidth": 1.4, "strokeDash": [22, 9]}, "encoding": {"y": {"field": "idx", "type": "quantitative", "scale": {"domain": [0.2, 1.8], "nice": false, "zero": false}, "axis": {"orient": "left", "values": [0.36, 0.52, 0.68, 0.84, 1.0, 1.16, 1.32, 1.48, 1.64], "labels": false, "title": null}}}},
        {"data": {"name": "levels"}, "transform": [{"filter": "datum.panel == 'c' && datum.kind == 'mean'"}], "mark": {"type": "rule", "color": "black", "strokeWidth": 1.4}, "encoding": {"y": {"field": "idx", "type": "quantitative", "scale": {"domain": [0.2, 1.8], "nice": false, "zero": false}, "axis": {"orient": "left", "values": [1.0, 1.8], "ticks": false, "labelExpr": "abs(datum.value - 1.8) < 0.01 ? '1.8' : '1.0'", "title": null}}}},
        {"data": {"name": "raw_c"}, "mark": {"type": "line", "color": "black", "strokeWidth": 0.9}, "encoding": {"x": {"field": "year", "type": "quantitative", "scale": {"domain": [1725, 2004], "nice": false, "zero": false}}, "y": {"field": "idx", "type": "quantitative", "scale": {"domain": [0.2, 1.8], "nice": false, "zero": false}, "axis": null}}},
        {"data": {"name": "smooth_c"}, "mark": {"type": "line", "color": "black", "strokeWidth": 2.6, "interpolate": "monotone"}, "encoding": {"x": {"field": "year", "type": "quantitative", "scale": {"domain": [1725, 2004], "nice": false, "zero": false}}, "y": {"field": "idx", "type": "quantitative", "scale": {"domain": [0.2, 1.8], "nice": false, "zero": false}, "axis": null}}},
        {"data": {"name": "labels"}, "transform": [{"filter": "datum.panel == 'c'"}], "mark": {"type": "text", "align": "left", "baseline": "alphabetic", "font": "Liberation Serif", "fontSize": 31, "color": "black"}, "encoding": {"x": {"datum": 1818.7, "type": "quantitative"}, "y": {"datum": 1.53, "type": "quantitative", "axis": null}, "text": {"field": "prefix"}}},
        {"data": {"name": "labels"}, "transform": [{"filter": "datum.panel == 'c'"}], "mark": {"type": "text", "align": "left", "baseline": "alphabetic", "font": "Liberation Serif", "fontSize": 31, "fontStyle": "italic", "color": "black"}, "encoding": {"x": {"datum": 1886.8, "type": "quantitative"}, "y": {"datum": 1.53, "type": "quantitative", "axis": null}, "text": {"field": "species"}}}
      ]},
      {"data": {"name": "depth_c"}, "mark": {"type": "line", "color": "#9c9c9c", "strokeWidth": 1.6}, "encoding": {"x": {"field": "year", "type": "quantitative", "scale": {"domain": [1725, 2004], "nice": false, "zero": false}}, "y": {"field": "n", "type": "quantitative", "scale": {"domain": [0, 500], "nice": false, "zero": false}, "axis": {"orient": "right", "values": [0, 50, 100, 150, 200, 250, 300, 350, 400, 450, 500], "labelExpr": "datum.value == 500 ? '500' : datum.value == 250 ? '250' : ''", "title": null}}}}
    ]},
    {"width": 554, "height": 174, "resolve": {"scale": {"y": "independent"}}, "layer": [
      {"resolve": {"axis": {"y": "independent"}}, "layer": [
        {"data": {"name": "decades"}, "mark": {"type": "rule", "color": "black", "strokeWidth": 1, "strokeDash": [2, 3]}, "encoding": {"x": {"field": "year", "type": "quantitative", "scale": {"domain": [1725, 2004], "nice": false, "zero": false}, "axis": {"values": [1750, 1800, 1850, 1900, 1950, 2000], "labels": false, "title": null}}}},
        {"data": {"name": "levels"}, "transform": [{"filter": "datum.panel == 'd' && datum.kind != 'mean'"}], "mark": {"type": "rule", "color": "black", "strokeWidth": 1.4, "strokeDash": [22, 9]}, "encoding": {"y": {"field": "idx", "type": "quantitative", "scale": {"domain": [0.2, 1.8], "nice": false, "zero": false}, "axis": {"orient": "left", "values": [0.36, 0.52, 0.68, 0.84, 1.0, 1.16, 1.32, 1.48, 1.64], "labels": false, "title": null}}}},
        {"data": {"name": "levels"}, "transform": [{"filter": "datum.panel == 'd' && datum.kind == 'mean'"}], "mark": {"type": "rule", "color": "black", "strokeWidth": 1.4}, "encoding": {"y": {"field": "idx", "type": "quantitative", "scale": {"domain": [0.2, 1.8], "nice": false, "zero": false}, "axis": {"orient": "left", "values": [1.0, 1.8], "ticks": false, "labelExpr": "abs(datum.value - 1.8) < 0.01 ? '1.8' : '1.0'", "title": "Index", "titleFontSize": 46, "titleX": -96, "titleY": 174, "titleAngle": 270, "titleAlign": "center", "titleBaseline": "alphabetic"}}}},
        {"data": {"name": "raw_d"}, "mark": {"type": "line", "color": "black", "strokeWidth": 0.9}, "encoding": {"x": {"field": "year", "type": "quantitative", "scale": {"domain": [1725, 2004], "nice": false, "zero": false}}, "y": {"field": "idx", "type": "quantitative", "scale": {"domain": [0.2, 1.8], "nice": false, "zero": false}, "axis": null}}},
        {"data": {"name": "smooth_d"}, "mark": {"type": "line", "color": "black", "strokeWidth": 2.6, "interpolate": "monotone"}, "encoding": {"x": {"field": "year", "type": "quantitative", "scale": {"domain": [1725, 2004], "nice": false, "zero": false}}, "y": {"field": "idx", "type": "quantitative", "scale": {"domain": [0.2, 1.8], "nice": false, "zero": false}, "axis": null}}},
        {"data": {"name": "labels"}, "transform": [{"filter": "datum.panel == 'd'"}], "mark": {"type": "text", "align": "left", "baseline": "alphabetic", "font": "Liberation Serif", "fontSize": 31, "color": "black"}, "encoding": {"x": {"datum": 1818.7, "type": "quantitative"}, "y": {"datum": 1.53, "type": "quantitative", "axis": null}, "text": {"field": "prefix"}}},
        {"data": {"name": "labels"}, "transform": [{"filter": "datum.panel == 'd'"}], "mark": {"type": "text", "align": "left", "baseline": "alphabetic", "font": "Liberation Serif", "fontSize": 31, "fontStyle": "italic", "color": "black"}, "encoding": {"x": {"datum": 1889.4, "type": "quantitative"}, "y": {"datum": 1.53, "type": "quantitative", "axis": null}, "text": {"field": "species"}}}
      ]},
      {"data": {"name": "depth_d"}, "mark": {"type": "line", "color": "#9c9c9c", "strokeWidth": 1.6}, "encoding": {"x": {"field": "year", "type": "quantitative", "scale": {"domain": [1725, 2004], "nice": false, "zero": false}}, "y": {"field": "n", "type": "quantitative", "scale": {"domain": [0, 500], "nice": false, "zero": false}, "axis": {"orient": "right", "values": [0, 50, 100, 150, 200, 250, 300, 350, 400, 450, 500], "labelExpr": "datum.value == 500 ? '500' : datum.value == 250 ? '250' : ''", "title": "Sample Depth", "titleFontSize": 40, "titleX": 111, "titleY": 174, "titleAngle": 90, "titleAlign": "center", "titleBaseline": "alphabetic"}}}}
    ]},
    {"width": 554, "height": 174, "resolve": {"scale": {"y": "independent"}}, "layer": [
      {"resolve": {"axis": {"y": "independent"}}, "layer": [
        {"data": {"name": "decades"}, "mark": {"type": "rule", "color": "black", "strokeWidth": 1, "strokeDash": [2, 3]}, "encoding": {"x": {"field": "year", "type": "quantitative", "scale": {"domain": [1725, 2004], "nice": false, "zero": false}, "axis": {"values": [1750, 1800, 1850, 1900, 1950, 2000], "labels": false, "title": null}}}},
        {"data": {"name": "levels"}, "transform": [{"filter": "datum.panel == 'e' && datum.kind != 'mean'"}], "mark": {"type": "rule", "color": "black", "strokeWidth": 1.4, "strokeDash": [22, 9]}, "encoding": {"y": {"field": "idx", "type": "quantitative", "scale": {"domain": [0.2, 1.8], "nice": false, "zero": false}, "axis": {"orient": "left", "values": [0.36, 0.52, 0.68, 0.84, 1.0, 1.16, 1.32, 1.48, 1.64], "labels": false, "title": null}}}},
        {"data": {"name": "levels"}, "transform": [{"filter": "datum.panel == 'e' && datum.kind == 'mean'"}], "mark": {"type": "rule", "color": "black", "strokeWidth": 1.4}, "encoding": {"y": {"field": "idx", "type": "quantitative", "scale": {"domain": [0.2, 1.8], "nice": false, "zero": false}, "axis": {"orient": "left", "values": [1.0, 1.8], "ticks": false, "labelExpr": "abs(datum.value - 1.8) < 0.01 ? '1.8' : '1.0'", "title": null}}}},
        {"data": {"name": "raw_e"}, "mark": {"type": "line", "color": "black", "strokeWidth": 0.9}, "encoding": {"x": {"field": "year", "type": "quantitative", "scale": {"domain": [1725, 2004], "nice": false, "zero": false}}, "y": {"field": "idx", "type": "quantitative", "scale": {"domain": [0.2, 1.8], "nice": false, "zero": false}, "axis": null}}},
        {"data": {"name": "smooth_e"}, "mark": {"type": "line", "color": "black", "strokeWidth": 2.6, "interpolate": "monotone"}, "encoding": {"x": {"field": "year", "type": "quantitative", "scale": {"domain": [1725, 2004], "nice": false, "zero": false}}, "y": {"field": "idx", "type": "quantitative", "scale": {"domain": [0.2, 1.8], "nice": false, "zero": false}, "axis": null}}},
        {"data": {"name": "labels"}, "transform": [{"filter": "datum.panel == 'e'"}], "mark": {"type": "text", "align": "left", "baseline": "alphabetic", "font": "Liberation Serif", "fontSize": 31, "color": "black"}, "encoding": {"x": {"datum": 1818.7, "type": "quantitative"}, "y": {"datum": 1.53, "type": "quantitative", "axis": null}, "text": {"field": "prefix"}}},
        {"data": {"name": "labels"}, "transform": [{"filter": "datum.panel == 'e'"}], "mark": {"type": "text", "align": "left", "baseline": "alphabetic", "font": "Liberation Serif", "fontSize": 31, "fontStyle": "italic", "color": "black"}, "encoding": {"x": {"datum": 1888.5, "type": "quantitative"}, "y": {"datum": 1.53, "type": "quantitative", "axis": null}, "text": {"field": "species"}}}
      ]},
      {"data": {"name": "depth_e"}, "mark": {"type": "line", "color": "#9c9c9c", "strokeWidth": 1.6}, "encoding": {"x": {"field": "year", "type": "quantitative", "scale": {"domain": [1725, 2004], "nice": false, "zero": false}}, "y": {"field": "n", "type": "quantitative", "scale": {"domain": [0, 500], "nice": false, "zero": false}, "axis": {"orient": "right", "values": [0, 50, 100, 150, 200, 250, 300, 350, 400, 450, 500], "labelExpr": "datum.value == 500 ? '500' : datum.value == 250 ? '250' : ''", "title": null}}}}
    ]},
    {"width": 554, "height": 174, "resolve": {"scale": {"y": "independent"}}, "layer": [
      {"resolve": {"axis": {"y": "independent"}}, "layer": [
        {"data": {"name": "decades"}, "mark": {"type": "rule", "color": "black", "strokeWidth": 1, "strokeDash": [2, 3]}, "encoding": {"x": {"field": "year", "type": "quantitative", "scale": {"domain": [1725, 2004], "nice": false, "zero": false}, "axis": {"values": [1750, 1800, 1850, 1900, 1950, 2000], "labels": false, "title": null}}}},
        {"data": {"name": "levels"}, "transform": [{"filter": "datum.panel == 'f' && datum.kind != 'mean'"}], "mark": {"type": "rule", "color": "black", "strokeWidth": 1.4, "strokeDash": [22, 9]}, "encoding": {"y": {"field": "idx", "type": "quantitative", "scale": {"domain": [0.2, 1.8], "nice": false, "zero": false}, "axis": {"orient": "left", "values": [0.36, 0.52, 0.68, 0.84, 1.0, 1.16, 1.32, 1.48, 1.64], "labels": false, "title": null}}}},
        {"data": {"name": "levels"}, "transform": [{"filter": "datum.panel == 'f' && datum.kind == 'mean'"}], "mark": {"type": "rule", "color": "black", "strokeWidth": 1.4}, "encoding": {"y": {"field": "idx", "type": "quantitative", "scale": {"domain": [0.2, 1.8], "nice": false, "zero": false}, "axis": {"orient": "left", "values": [1.0, 1.8], "ticks": false, "labelExpr": "abs(datum.value - 1.8) < 0.01 ? '1.8' : '1.0'", "title": null}}}},
        {"data": {"name": "raw_f"}, "mark": {"type": "line", "color": "black", "strokeWidth": 0.9}, "encoding": {"x": {"field": "year", "type": "quantitative", "scale": {"domain": [1725, 2004], "nice": false, "zero": false}}, "y": {"field": "idx", "type": "quantitative", "scale": {"domain": [0.2, 1.8], "nice": false, "zero": false}, "axis": null}}},
        {"data": {"name": "smooth_f"}, "mark": {"type": "line", "color": "black", "strokeWidth": 2.6, "interpolate": "monotone"}, "encoding": {"x": {"field": "year", "type": "quantitative", "scale": {"domain": [1725, 2004], "nice": false, "zero": false}}, "y": {"field": "idx", "type": "quantitative", "scale": {"domain": [0.2, 1.8], "nice": false, "zero": false}, "axis": null}}},
        {"data": {"name": "labels"}, "transform": [{"filter": "datum.panel == 'f'"}], "mark": {"type": "text", "align": "left", "baseline": "alphabetic", "font": "Liberation Serif", "fontSize": 31, "color": "black"}, "encoding": {"x": {"datum": 1818.7, "type": "quantitative"}, "y": {"datum": 1.53, "type": "quantitative", "axis": null}, "text": {"field": "prefix"}}},
        {"data": {"name": "labels"}, "transform": [{"filter": "datum.panel == 'f'"}], "mark": {"type": "text", "align": "left", "baseline": "alphabetic", "font": "Liberation Serif", "fontSize": 31, "fontStyle": "italic", "color": "black"}, "encoding": {"x": {"datum": 1886.8, "type": "quantitative"}, "y": {"datum": 1.53, "type": "quantitative", "axis": null}, "text": {"field": "species"}}}
      ]},
      {"data": {"name": "depth_f"}, "mark": {"type": "line", "color": "#9c9c9c", "strokeWidth": 1.6}, "encoding": {"x": {"field": "year", "type": "quantitative", "scale": {"domain": [1725, 2004], "nice": false, "zero": false}}, "y": {"field": "n", "type": "quantitative", "scale": {"domain": [0, 500], "nice": false, "zero": false}, "axis": {"orient": "right", "values": [0, 50, 100, 150, 200, 250, 300, 350, 400, 450, 500], "labelExpr": "datum.value == 500 ? '500' : datum.value == 250 ? '250' : ''", "title": null}}}}
    ]},
    {"width": 554, "height": 174, "resolve": {"scale": {"y": "independent"}}, "layer": [
      {"resolve": {"axis": {"y": "independent"}}, "layer": [
        {"data": {"name": "decades"}, "mark": {"type": "rule", "color": "black", "strokeWidth": 1, "strokeDash": [2, 3]}, "encoding": {"x": {"field": "year", "type": "quantitative", "scale": {"domain": [1725, 2004], "nice": false, "zero": false}, "axis": {"values": [1750, 1800, 1850, 1900, 1950, 2000], "labels": false, "title": null}}}},
        {"data": {"name": "levels"}, "transform": [{"filter": "datum.panel == 'g' && datum.kind != 'mean'"}], "mark": {"type": "rule", "color": "black", "strokeWidth": 1.4, "strokeDash": [22, 9]}, "encoding": {"y": {"field": "idx", "type": "quantitative", "scale": {"domain": [0.2, 1.8], "nice": false, "zero": false}, "axis": {"orient": "left", "values": [0.36, 0.52, 0.68, 0.84, 1.0, 1.16, 1.32, 1.48, 1.64], "labels": false, "title": null}}}},
        {"data": {"name": "levels"}, "transform": [{"filter": "datum.panel == 'g' && datum.kind == 'mean'"}], "mark": {"type": "rule", "color": "black", "strokeWidth": 1.4}, "encoding": {"y": {"field": "idx", "type": "quantitative", "scale": {"domain": [0.2, 1.8], "nice": false, "zero": false}, "axis": {"orient": "left", "values": [1.0, 1.8], "ticks": false, "labelExpr": "abs(datum.value - 1.8) < 0.01 ? '1.8' : '1.0'", "title": null}}}},
        {"data": {"name": "raw_g"}, "mark": {"type": "line", "color": "black", "strokeWidth": 0.9}, "encoding": {"x": {"field": "year", "type": "quantitative", "scale": {"domain": [1725, 2004], "nice": false, "zero": false}}, "y": {"field": "idx", "type": "quantitative", "scale": {"domain": [0.2, 1.8], "nice": false, "zero": false}, "axis": null}}},
        {"data": {"name": "smooth_g"}, "mark": {"type": "line", "color": "black", "strokeWidth": 2.6, "interpolate": "monotone"}, "encoding": {"x": {"field": "year", "type": "quantitative", "scale": {"domain": [1725, 2004], "nice": false, "zero": false}}, "y": {"field": "idx", "type": "quantitative", "scale": {"domain": [0.2, 1.8], "nice": false, "zero": false}, "axis": null}}},
        {"data": {"name": "labels"}, "transform": [{"filter": "datum.panel == 'g'"}], "mark": {"type": "text", "align": "left", "baseline": "alphabetic", "font": "Liberation Serif", "fontSize": 31, "color": "black"}, "encoding": {"x": {"datum": 1818.7, "type": "quantitative"}, "y": {"datum": 1.53, "type": "quantitative", "axis": null}, "text": {"field": "prefix"}}},
        {"data": {"name": "labels"}, "transform": [{"filter": "datum.panel == 'g'"}], "mark": {"type": "text", "align": "left", "baseline": "alphabetic", "font": "Liberation Serif", "fontSize": 31, "fontStyle": "italic", "color": "black"}, "encoding": {"x": {"datum": 1885.0, "type": "quantitative"}, "y": {"datum": 1.53, "type": "quantitative", "axis": null}, "text": {"field": "species"}}}
      ]},
      {"data": {"name": "depth_g"}, "mark": {"type": "line", "color": "#9c9c9c", "strokeWidth": 1.6}, "encoding": {"x": {"field": "year", "type": "quantitative", "scale": {"domain": [1725, 2004], "nice": false, "zero": false}}, "y": {"field": "n", "type": "quantitative", "scale": {"domain": [0, 500], "nice": false, "zero": false}, "axis": {"orient": "right", "values": [0, 50, 100, 150, 200, 250, 300, 350, 400, 450, 500], "labelExpr": "datum.value == 500 ? '500' : datum.value == 250 ? '250' : ''", "title": null}}}}
    ]},
    {"width": 554, "height": 174, "resolve": {"scale": {"y": "independent"}}, "layer": [
      {"resolve": {"axis": {"y": "independent"}}, "layer": [
        {"data": {"name": "decades"}, "mark": {"type": "rule", "color": "black", "strokeWidth": 1, "strokeDash": [2, 3]}, "encoding": {"x": {"field": "year", "type": "quantitative", "scale": {"domain": [1725, 2004], "nice": false, "zero": false}, "axis": {"values": [1750, 1800, 1850, 1900, 1950, 2000], "format": "d", "title": "Year", "titleY": 91, "titleBaseline": "alphabetic"}}}},
        {"data": {"name": "levels"}, "transform": [{"filter": "datum.panel == 'h' && datum.kind != 'mean'"}], "mark": {"type": "rule", "color": "black", "strokeWidth": 1.4, "strokeDash": [22, 9]}, "encoding": {"y": {"field": "idx", "type": "quantitative", "scale": {"domain": [0.2, 1.8], "nice": false, "zero": false}, "axis": {"orient": "left", "values": [0.36, 0.52, 0.68, 0.84, 1.0, 1.16, 1.32, 1.48, 1.64], "labels": false, "title": null}}}},
        {"data": {"name": "levels"}, "transform": [{"filter": "datum.panel == 'h' && datum.kind == 'mean'"}], "mark": {"type": "rule", "color": "black", "strokeWidth": 1.4}, "encoding": {"y": {"field": "idx", "type": "quantitative", "scale": {"domain": [0.2, 1.8], "nice": false, "zero": false}, "axis": {"orient": "left", "values": [0.2, 1.0, 1.8], "ticks": false, "labelExpr": "abs(datum.value - 1.8) < 0.01 ? '1.8' : abs(datum.value - 1) < 0.01 ? '1.0' : '0.3'", "title": null}}}},
        {"data": {"name": "raw_h"}, "mark": {"type": "line", "color": "black", "strokeWidth": 0.9}, "encoding": {"x": {"field": "year", "type": "quantitative", "scale": {"domain": [1725, 2004], "nice": false, "zero": false}}, "y": {"field": "idx", "type": "quantitative", "scale": {"domain": [0.2, 1.8], "nice": false, "zero": false}, "axis": null}}},
        {"data": {"name": "smooth_h"}, "mark": {"type": "line", "color": "black", "strokeWidth": 2.6, "interpolate": "monotone"}, "encoding": {"x": {"field": "year", "type": "quantitative", "scale": {"domain": [1725, 2004], "nice": false, "zero": false}}, "y": {"field": "idx", "type": "quantitative", "scale": {"domain": [0.2, 1.8], "nice": false, "zero": false}, "axis": null}}},
        {"data": {"name": "labels"}, "transform": [{"filter": "datum.panel == 'h'"}], "mark": {"type": "text", "align": "left", "baseline": "alphabetic", "font": "Liberation Serif", "fontSize": 31, "color": "black"}, "encoding": {"x": {"datum": 1818.7, "type": "quantitative"}, "y": {"datum": 1.53, "type": "quantitative", "axis": null}, "text": {"field": "prefix"}}},
        {"data": {"name": "labels"}, "transform": [{"filter": "datum.panel == 'h'"}], "mark": {"type": "text", "align": "left", "baseline": "alphabetic", "font": "Liberation Serif", "fontSize": 31, "fontStyle": "italic", "color": "black"}, "encoding": {"x": {"datum": 1885.0, "type": "quantitative"}, "y": {"datum": 1.53, "type": "quantitative", "axis": null}, "text": {"field": "species"}}}
      ]},
      {"data": {"name": "depth_h"}, "mark": {"type": "line", "color": "#9c9c9c", "strokeWidth": 1.6}, "encoding": {"x": {"field": "year", "type": "quantitative", "scale": {"domain": [1725, 2004], "nice": false, "zero": false}}, "y": {"field": "n", "type": "quantitative", "scale": {"domain": [0, 500], "nice": false, "zero": false}, "axis": {"orient": "right", "values": [0, 50, 100, 150, 200, 250, 300, 350, 400, 450, 500], "labelExpr": "datum.value == 500 ? '500' : datum.value == 250 ? '250' : datum.value == 0 ? '0' : ''", "title": null}}}}
    ]}
  ]
}
